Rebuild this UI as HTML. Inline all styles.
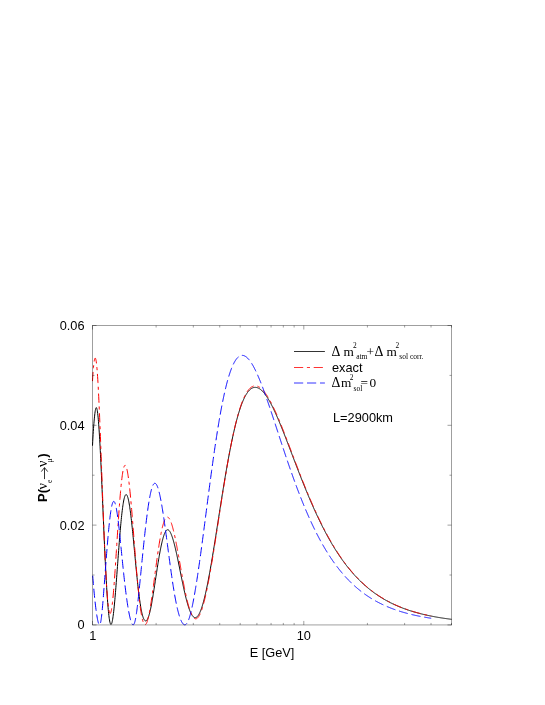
<!DOCTYPE html>
<html><head><meta charset="utf-8"><style>
html,body{margin:0;padding:0;background:#fff;}
svg{display:block;will-change:transform;opacity:0.999}
text{font-family:"Liberation Sans",sans-serif;fill:#000}
.ser,.ser text{font-family:"Liberation Serif",serif}
</style></head><body>
<svg width="545" height="705" viewBox="0 0 545 705">
<rect width="545" height="705" fill="#fff"/>
<g fill="none" stroke-width="1">
<path d="M92.50,445.70 L92.70,441.69 L92.90,438.00 L93.10,434.60 L93.30,431.48 L93.50,428.60 L93.70,425.92 L93.90,423.42 L94.10,421.08 L94.30,418.89 L94.50,416.86 L94.70,415.00 L94.90,413.32 L95.10,411.84 L95.30,410.56 L95.49,409.51 L95.69,408.68 L95.89,408.09 L96.09,407.73 L96.29,407.62 L96.49,407.75 L96.69,408.12 L96.89,408.72 L97.09,409.56 L97.29,410.63 L97.49,411.92 L97.69,413.44 L97.89,415.18 L98.09,417.13 L98.29,419.28 L98.49,421.63 L98.69,424.18 L98.89,426.92 L99.09,429.83 L99.29,432.91 L99.49,436.16 L99.69,439.56 L99.89,443.11 L100.09,446.80 L100.29,450.62 L100.49,454.56 L100.69,458.61 L100.89,462.76 L101.08,467.01 L101.28,471.34 L101.48,475.74 L101.68,480.21 L101.88,484.73 L102.08,489.30 L102.28,493.91 L102.48,498.55 L102.68,503.20 L102.88,507.86 L103.08,512.52 L103.28,517.18 L103.48,521.81 L103.68,526.42 L103.88,531.00 L104.08,535.53 L104.28,540.02 L104.48,544.45 L104.68,548.81 L104.88,553.10 L105.08,557.32 L105.28,561.45 L105.48,565.49 L105.68,569.43 L105.88,573.27 L106.08,577.00 L106.28,580.61 L106.48,584.11 L106.67,587.49 L106.87,590.74 L107.07,593.86 L107.27,596.84 L107.47,599.68 L107.67,602.39 L107.87,604.94 L108.07,607.35 L108.27,609.61 L108.47,611.71 L108.67,613.66 L108.87,615.44 L109.07,617.07 L109.27,618.54 L109.47,619.85 L109.67,620.99 L109.87,621.97 L110.07,622.79 L110.27,623.44 L110.47,623.93 L110.67,624.26 L110.87,624.43 L111.07,624.44 L111.27,624.30 L111.47,624.01 L111.67,623.56 L111.87,622.97 L112.07,622.24 L112.26,621.37 L112.46,620.37 L112.66,619.23 L112.86,617.98 L113.06,616.60 L113.26,615.11 L113.46,613.51 L113.66,611.81 L113.86,610.00 L114.06,608.11 L114.26,606.12 L114.46,604.05 L114.66,601.91 L114.86,599.69 L115.06,597.40 L115.26,595.05 L115.46,592.64 L115.66,590.19 L115.86,587.68 L116.06,585.13 L116.26,582.55 L116.46,579.93 L116.66,577.28 L116.86,574.62 L117.06,571.93 L117.26,569.23 L117.46,566.53 L117.66,563.82 L117.85,561.11 L118.05,558.41 L118.25,555.72 L118.45,553.05 L118.65,550.39 L118.85,547.76 L119.05,545.16 L119.25,542.59 L119.45,540.06 L119.65,537.57 L119.85,535.12 L120.05,532.72 L120.25,530.38 L120.45,528.09 L120.65,525.86 L120.85,523.68 L121.05,521.58 L121.25,519.54 L121.45,517.57 L121.65,515.67 L121.85,513.84 L122.05,512.09 L122.25,510.42 L122.45,508.83 L122.65,507.32 L122.85,505.89 L123.05,504.54 L123.25,503.28 L123.45,502.10 L123.64,501.01 L123.84,500.00 L124.04,499.08 L124.24,498.24 L124.44,497.49 L124.64,496.82 L124.84,496.24 L125.04,495.75 L125.24,495.34 L125.44,495.01 L125.64,494.77 L125.84,494.62 L126.04,494.54 L126.24,494.55 L126.44,494.64 L126.64,494.81 L126.84,495.06 L127.04,495.39 L127.24,495.80 L127.44,496.29 L127.64,496.85 L127.84,497.49 L128.04,498.20 L128.24,498.99 L128.44,499.85 L128.64,500.78 L128.84,501.78 L129.04,502.85 L129.23,503.98 L129.43,505.18 L129.63,506.44 L129.83,507.77 L130.03,509.16 L130.23,510.60 L130.43,512.10 L130.63,513.66 L130.83,515.26 L131.03,516.92 L131.23,518.63 L131.43,520.38 L131.63,522.17 L131.83,524.01 L132.03,525.88 L132.23,527.79 L132.43,529.73 L132.63,531.70 L132.83,533.70 L133.03,535.72 L133.23,537.77 L133.43,539.83 L133.63,541.92 L133.83,544.01 L134.03,546.12 L134.23,548.24 L134.43,550.36 L134.63,552.48 L134.82,554.61 L135.02,556.73 L135.22,558.85 L135.42,560.96 L135.62,563.06 L135.82,565.15 L136.02,567.22 L136.22,569.28 L136.42,571.31 L136.62,573.33 L136.82,575.32 L137.02,577.28 L137.22,579.22 L137.42,581.13 L137.62,583.00 L137.82,584.84 L138.02,586.64 L138.22,588.41 L138.42,590.14 L138.62,591.83 L138.82,593.47 L139.02,595.07 L139.22,596.63 L139.42,598.15 L139.62,599.61 L139.82,601.03 L140.02,602.40 L140.22,603.73 L140.41,605.00 L140.61,606.23 L140.81,607.40 L141.01,608.52 L141.21,609.60 L141.41,610.62 L141.61,611.59 L141.81,612.52 L142.01,613.39 L142.21,614.21 L142.41,614.98 L142.61,615.71 L142.81,616.38 L143.01,617.00 L143.21,617.58 L143.41,618.11 L143.61,618.59 L143.81,619.03 L144.01,619.41 L144.21,619.76 L144.41,620.05 L144.61,620.30 L144.81,620.51 L145.01,620.68 L145.21,620.80 L145.41,620.87 L145.61,620.91 L145.81,620.90 L146.00,620.85 L146.20,620.76 L146.40,620.62 L146.60,620.45 L146.80,620.23 L147.00,619.98 L147.20,619.68 L147.40,619.35 L147.60,618.97 L147.80,618.56 L148.00,618.11 L148.20,617.61 L148.40,617.08 L148.60,616.51 L148.80,615.91 L149.00,615.27 L149.20,614.59 L149.40,613.87 L149.60,613.12 L149.80,612.34 L150.00,611.52 L150.20,610.66 L150.40,609.78 L150.60,608.86 L150.80,607.92 L151.00,606.94 L151.20,605.94 L151.40,604.90 L151.60,603.85 L151.79,602.76 L151.99,601.65 L152.19,600.52 L152.39,599.37 L152.59,598.20 L152.79,597.00 L152.99,595.79 L153.19,594.57 L153.39,593.32 L153.59,592.07 L153.79,590.80 L153.99,589.52 L154.19,588.23 L154.39,586.93 L154.59,585.62 L154.79,584.31 L154.99,583.00 L155.19,581.68 L155.39,580.35 L155.59,579.03 L155.79,577.71 L155.99,576.39 L156.19,575.07 L156.39,573.75 L156.59,572.45 L156.79,571.14 L156.99,569.85 L157.19,568.56 L157.38,567.28 L157.58,566.01 L157.78,564.75 L157.98,563.50 L158.18,562.27 L158.38,561.05 L158.58,559.85 L158.78,558.66 L158.98,557.49 L159.18,556.33 L159.38,555.19 L159.58,554.07 L159.78,552.97 L159.98,551.89 L160.18,550.83 L160.38,549.79 L160.58,548.77 L160.78,547.77 L160.98,546.80 L161.18,545.85 L161.38,544.92 L161.58,544.01 L161.78,543.13 L161.98,542.28 L162.18,541.45 L162.38,540.64 L162.58,539.86 L162.78,539.11 L162.97,538.38 L163.17,537.68 L163.37,537.01 L163.57,536.36 L163.77,535.74 L163.97,535.15 L164.17,534.59 L164.37,534.06 L164.57,533.56 L164.77,533.09 L164.97,532.65 L165.17,532.23 L165.37,531.85 L165.57,531.50 L165.77,531.18 L165.97,530.90 L166.17,530.64 L166.37,530.42 L166.57,530.22 L166.77,530.06 L166.97,529.94 L167.17,529.84 L167.37,529.77 L167.57,529.74 L167.77,529.74 L167.97,529.77 L168.17,529.83 L168.37,529.92 L168.56,530.04 L168.76,530.19 L168.96,530.37 L169.16,530.58 L169.36,530.82 L169.56,531.08 L169.76,531.38 L169.96,531.69 L170.16,532.04 L170.36,532.41 L170.56,532.80 L170.76,533.22 L170.96,533.66 L171.16,534.13 L171.36,534.62 L171.56,535.13 L171.76,535.66 L171.96,536.21 L172.16,536.78 L172.36,537.37 L172.56,537.99 L172.76,538.62 L172.96,539.27 L173.16,539.93 L173.36,540.62 L173.56,541.32 L173.76,542.04 L173.96,542.77 L174.16,543.52 L174.35,544.29 L174.55,545.07 L174.75,545.86 L174.95,546.67 L175.15,547.49 L175.35,548.33 L175.55,549.18 L175.75,550.03 L175.95,550.91 L176.15,551.79 L176.35,552.68 L176.55,553.58 L176.75,554.49 L176.95,555.41 L177.15,556.34 L177.35,557.28 L177.55,558.22 L177.75,559.17 L177.95,560.13 L178.15,561.09 L178.35,562.06 L178.55,563.04 L178.75,564.01 L178.95,564.99 L179.15,565.98 L179.35,566.96 L179.55,567.95 L179.75,568.94 L179.94,569.93 L180.14,570.92 L180.34,571.92 L180.54,572.91 L180.74,573.90 L180.94,574.89 L181.14,575.87 L181.34,576.86 L181.54,577.84 L181.74,578.82 L181.94,579.79 L182.14,580.76 L182.34,581.72 L182.54,582.68 L182.74,583.64 L182.94,584.58 L183.14,585.52 L183.34,586.46 L183.54,587.38 L183.74,588.30 L183.94,589.21 L184.14,590.11 L184.34,591.01 L184.54,591.89 L184.74,592.76 L184.94,593.62 L185.14,594.48 L185.34,595.32 L185.53,596.15 L185.73,596.97 L185.93,597.77 L186.13,598.57 L186.33,599.35 L186.53,600.11 L186.73,600.87 L186.93,601.61 L187.13,602.34 L187.33,603.05 L187.53,603.75 L187.73,604.43 L187.93,605.10 L188.13,605.76 L188.33,606.39 L188.53,607.02 L188.73,607.62 L188.93,608.21 L189.13,608.79 L189.33,609.35 L189.53,609.89 L189.73,610.41 L189.93,610.92 L190.13,611.41 L190.33,611.88 L190.53,612.33 L190.73,612.77 L190.93,613.19 L191.12,613.59 L191.32,613.97 L191.52,614.33 L191.72,614.68 L191.92,615.00 L192.12,615.31 L192.32,615.60 L192.52,615.87 L192.72,616.12 L192.92,616.35 L193.12,616.56 L193.32,616.76 L193.52,616.93 L193.72,617.09 L193.92,617.22 L194.12,617.34 L194.32,617.44 L194.52,617.51 L194.72,617.57 L194.92,617.61 L195.12,617.63 L195.32,617.63 L195.52,617.61 L195.72,617.57 L195.92,617.51 L196.12,617.43 L196.32,617.34 L196.52,617.22 L196.71,617.09 L196.91,616.93 L197.11,616.76 L197.31,616.56 L197.51,616.35 L197.71,616.12 L197.91,615.87 L198.11,615.60 L198.31,615.32 L198.51,615.01 L198.71,614.69 L198.91,614.34 L199.11,613.98 L199.31,613.60 L199.51,613.21 L199.71,612.79 L199.91,612.36 L200.11,611.91 L200.31,611.44 L200.51,610.95 L200.71,610.45 L200.91,609.93 L201.11,609.39 L201.31,608.84 L201.51,608.27 L201.71,607.68 L201.91,607.07 L202.11,606.45 L202.31,605.82 L202.50,605.16 L202.70,604.50 L202.90,603.81 L203.10,603.11 L203.30,602.40 L203.50,601.67 L203.70,600.92 L203.90,600.16 L204.10,599.39 L204.30,598.60 L204.50,597.80 L204.70,596.98 L204.90,596.15 L205.10,595.31 L205.30,594.45 L205.50,593.58 L205.70,592.70 L205.90,591.80 L206.10,590.90 L206.30,589.97 L206.50,589.04 L206.70,588.10 L206.90,587.14 L207.10,586.17 L207.30,585.19 L207.50,584.20 L207.70,583.20 L207.90,582.19 L208.09,581.16 L208.29,580.13 L208.49,579.09 L208.69,578.03 L208.89,576.97 L209.09,575.90 L209.29,574.82 L209.49,573.73 L209.69,572.63 L209.89,571.52 L210.09,570.40 L210.29,569.28 L210.49,568.14 L210.69,567.00 L210.89,565.86 L211.09,564.70 L211.29,563.54 L211.49,562.37 L211.69,561.20 L211.89,560.01 L212.09,558.83 L212.29,557.63 L212.49,556.43 L212.69,555.23 L212.89,554.02 L213.09,552.80 L213.29,551.58 L213.49,550.35 L213.68,549.12 L213.88,547.89 L214.08,546.65 L214.28,545.41 L214.48,544.16 L214.68,542.91 L214.88,541.66 L215.08,540.40 L215.28,539.14 L215.48,537.88 L215.68,536.62 L215.88,535.35 L216.08,534.08 L216.28,532.81 L216.48,531.54 L216.68,530.27 L216.88,528.99 L217.08,527.71 L217.28,526.44 L217.48,525.16 L217.68,523.88 L217.88,522.60 L218.08,521.32 L218.28,520.04 L218.48,518.76 L218.68,517.48 L218.88,516.20 L219.08,514.92 L219.27,513.65 L219.47,512.37 L219.67,511.09 L219.87,509.82 L220.07,508.55 L220.27,507.28 L220.47,506.01 L220.67,504.74 L220.87,503.47 L221.07,502.21 L221.27,500.95 L221.47,499.69 L221.67,498.44 L221.87,497.18 L222.07,495.93 L222.27,494.69 L222.47,493.44 L222.67,492.20 L222.87,490.97 L223.07,489.73 L223.27,488.51 L223.47,487.28 L223.67,486.06 L223.87,484.84 L224.07,483.63 L224.27,482.42 L224.47,481.22 L224.67,480.02 L224.86,478.83 L225.06,477.64 L225.26,476.46 L225.46,475.28 L225.66,474.10 L225.86,472.94 L226.06,471.77 L226.26,470.62 L226.46,469.47 L226.66,468.32 L226.86,467.18 L227.06,466.05 L227.26,464.92 L227.46,463.80 L227.66,462.69 L227.86,461.58 L228.06,460.48 L228.26,459.38 L228.46,458.30 L228.66,457.21 L228.86,456.14 L229.06,455.07 L229.26,454.01 L229.46,452.96 L229.66,451.91 L229.86,450.87 L230.06,449.84 L230.26,448.82 L230.46,447.80 L230.65,446.79 L230.85,445.79 L231.05,444.80 L231.25,443.81 L231.45,442.83 L231.65,441.86 L231.85,440.90 L232.05,439.95 L232.25,439.00 L232.45,438.06 L232.65,437.13 L232.85,436.21 L233.05,435.30 L233.25,434.39 L233.45,433.49 L233.65,432.61 L233.85,431.73 L234.05,430.85 L234.25,429.99 L234.45,429.14 L234.65,428.29 L234.85,427.45 L235.05,426.62 L235.25,425.80 L235.45,424.99 L235.65,424.19 L235.85,423.40 L236.05,422.61 L236.24,421.84 L236.44,421.07 L236.64,420.31 L236.84,419.56 L237.04,418.82 L237.24,418.09 L237.44,417.37 L237.64,416.65 L237.84,415.95 L238.04,415.25 L238.24,414.56 L238.44,413.89 L238.64,413.22 L238.84,412.56 L239.04,411.91 L239.24,411.27 L239.44,410.63 L239.64,410.01 L239.84,409.40 L240.04,408.79 L240.24,408.19 L240.44,407.61 L240.64,407.03 L240.84,406.46 L241.04,405.90 L241.24,405.34 L241.44,404.80 L241.64,404.27 L241.83,403.74 L242.03,403.23 L242.23,402.72 L242.43,402.22 L242.63,401.73 L242.83,401.25 L243.03,400.78 L243.23,400.32 L243.43,399.86 L243.63,399.42 L243.83,398.98 L244.03,398.56 L244.23,398.14 L244.43,397.73 L244.63,397.32 L244.83,396.93 L245.03,396.55 L245.23,396.17 L245.43,395.80 L245.63,395.44 L245.83,395.09 L246.03,394.75 L246.23,394.42 L246.43,394.09 L246.63,393.77 L246.83,393.46 L247.03,393.16 L247.23,392.87 L247.42,392.59 L247.62,392.31 L247.82,392.04 L248.02,391.78 L248.22,391.53 L248.42,391.28 L248.62,391.05 L248.82,390.82 L249.02,390.60 L249.22,390.38 L249.42,390.18 L249.62,389.98 L249.82,389.79 L250.02,389.60 L250.22,389.43 L250.42,389.26 L250.62,389.10 L250.82,388.95 L251.02,388.80 L251.22,388.66 L251.42,388.53 L251.62,388.41 L251.82,388.29 L252.02,388.18 L252.22,388.08 L252.42,387.98 L252.62,387.89 L252.82,387.81 L253.01,387.73 L253.21,387.67 L253.41,387.60 L253.61,387.55 L253.81,387.50 L254.01,387.46 L254.21,387.43 L254.41,387.40 L254.61,387.37 L254.81,387.36 L255.01,387.35 L255.21,387.35 L255.41,387.35 L255.61,387.36 L255.81,387.38 L256.01,387.40 L256.21,387.43 L256.41,387.46 L256.61,387.50 L256.81,387.55 L257.01,387.60 L257.21,387.66 L257.41,387.73 L257.61,387.80 L257.81,387.87 L258.01,387.95 L258.21,388.04 L258.41,388.14 L258.61,388.23 L258.80,388.34 L259.00,388.45 L259.20,388.57 L259.40,388.69 L259.60,388.81 L259.80,388.95 L260.00,389.08 L260.20,389.23 L260.40,389.37 L260.60,389.53 L260.80,389.69 L261.00,389.85 L261.20,390.02 L261.40,390.19 L261.60,390.37 L261.80,390.56 L262.00,390.75 L262.20,390.94 L262.40,391.14 L262.60,391.35 L262.80,391.55 L263.00,391.77 L263.20,391.99 L263.40,392.21 L263.60,392.44 L263.80,392.67 L264.00,392.91 L264.20,393.15 L264.39,393.40 L264.59,393.65 L264.79,393.90 L264.99,394.16 L265.19,394.43 L265.39,394.70 L265.59,394.97 L265.79,395.25 L265.99,395.53 L266.19,395.82 L266.39,396.11 L266.59,396.40 L266.79,396.70 L266.99,397.00 L267.19,397.31 L267.39,397.62 L267.59,397.93 L267.79,398.25 L267.99,398.57 L268.19,398.90 L268.39,399.23 L268.59,399.56 L268.79,399.90 L268.99,400.24 L269.19,400.59 L269.39,400.94 L269.59,401.29 L269.79,401.64 L269.98,402.00 L270.18,402.37 L270.38,402.73 L270.58,403.10 L270.78,403.47 L270.98,403.85 L271.18,404.23 L271.38,404.61 L271.58,405.00 L271.78,405.38 L271.98,405.78 L272.18,406.17 L272.38,406.57 L272.58,406.97 L272.78,407.37 L272.98,407.78 L273.18,408.19 L273.38,408.60 L273.58,409.01 L273.78,409.43 L273.98,409.85 L274.18,410.28 L274.38,410.70 L274.58,411.13 L274.78,411.56 L274.98,411.99 L275.18,412.43 L275.38,412.87 L275.57,413.31 L275.77,413.75 L275.97,414.19 L276.17,414.64 L276.37,415.09 L276.57,415.54 L276.77,416.00 L276.97,416.45 L277.17,416.91 L277.37,417.37 L277.57,417.83 L277.77,418.29 L277.97,418.76 L278.17,419.23 L278.37,419.70 L278.57,420.17 L278.77,420.64 L278.97,421.12 L279.17,421.59 L279.37,422.07 L279.57,422.55 L279.77,423.03 L279.97,423.51 L280.17,424.00 L280.37,424.48 L280.57,424.97 L280.77,425.46 L280.97,425.95 L281.16,426.44 L281.36,426.94 L281.56,427.43 L281.76,427.92 L281.96,428.42 L282.16,428.92 L282.36,429.42 L282.56,429.92 L282.76,430.42 L282.96,430.92 L283.16,431.43 L283.36,431.93 L283.56,432.44 L283.76,432.94 L283.96,433.45 L284.16,433.96 L284.36,434.47 L284.56,434.98 L284.76,435.49 L284.96,436.00 L285.16,436.51 L285.36,437.02 L285.56,437.54 L285.76,438.05 L285.96,438.57 L286.16,439.08 L286.36,439.60 L286.56,440.12 L286.76,440.63 L286.95,441.15 L287.15,441.67 L287.35,442.19 L287.55,442.71 L287.75,443.23 L287.95,443.75 L288.15,444.27 L288.35,444.79 L288.55,445.31 L288.75,445.83 L288.95,446.35 L289.15,446.88 L289.35,447.40 L289.55,447.92 L289.75,448.44 L289.95,448.97 L290.15,449.49 L290.35,450.01 L290.55,450.54 L290.75,451.06 L290.95,451.59 L291.15,452.11 L291.35,452.63 L291.55,453.16 L291.75,453.68 L291.95,454.20 L292.15,454.73 L292.35,455.25 L292.54,455.78 L292.74,456.30 L292.94,456.82 L293.14,457.35 L293.34,457.87 L293.54,458.39 L293.74,458.92 L293.94,459.44 L294.14,459.96 L294.34,460.48 L294.54,461.01 L294.74,461.53 L294.94,462.05 L295.14,462.57 L295.34,463.09 L295.54,463.61 L295.74,464.13 L295.94,464.65 L296.14,465.17 L296.34,465.69 L296.54,466.21 L296.74,466.73 L296.94,467.25 L297.14,467.76 L297.34,468.28 L297.54,468.80 L297.74,469.31 L297.94,469.83 L298.13,470.34 L298.33,470.86 L298.53,471.37 L298.73,471.89 L298.93,472.40 L299.13,472.91 L299.33,473.42 L299.53,473.93 L299.73,474.45 L299.93,474.96 L300.13,475.46 L300.33,475.97 L300.53,476.48 L300.73,476.99 L300.93,477.50 L301.13,478.00 L301.33,478.51 L301.53,479.01 L301.73,479.52 L301.93,480.02 L302.13,480.52 L302.33,481.02 L302.53,481.52 L302.73,482.02 L302.93,482.52 L303.13,483.02 L303.33,483.52 L303.53,484.02 L303.72,484.51 L303.92,485.01 L304.12,485.50 L304.32,486.00 L304.52,486.49 L304.72,486.98 L304.92,487.47 L305.12,487.96 L305.32,488.45 L305.52,488.94 L305.72,489.43 L305.92,489.91 L306.12,490.40 L306.32,490.89 L306.52,491.37 L306.72,491.85 L306.92,492.33 L307.12,492.81 L307.32,493.29 L307.52,493.77 L307.72,494.25 L307.92,494.73 L308.12,495.21 L308.32,495.68 L308.52,496.15 L308.72,496.63 L308.92,497.10 L309.12,497.57 L309.32,498.04 L309.51,498.51 L309.71,498.98 L309.91,499.45 L310.11,499.91 L310.31,500.38 L310.51,500.84 L310.71,501.30 L310.91,501.77 L311.11,502.23 L311.31,502.69 L311.51,503.14 L311.71,503.60 L311.91,504.06 L312.11,504.51 L312.31,504.97 L312.51,505.42 L312.71,505.87 L312.91,506.32 L313.11,506.77 L313.31,507.22 L313.51,507.67 L313.71,508.12 L313.91,508.56 L314.11,509.01 L314.31,509.45 L314.51,509.89 L314.71,510.33 L314.91,510.77 L315.10,511.21 L315.30,511.65 L315.50,512.08 L315.70,512.52 L315.90,512.95 L316.10,513.39 L316.30,513.82 L316.50,514.25 L316.70,514.68 L316.90,515.11 L317.10,515.53 L317.30,515.96 L317.50,516.38 L317.70,516.81 L317.90,517.23 L318.10,517.65 L318.30,518.07 L318.50,518.49 L318.70,518.91 L318.90,519.32 L319.10,519.74 L319.30,520.15 L319.50,520.57 L319.70,520.98 L319.90,521.39 L320.10,521.80 L320.30,522.20 L320.50,522.61 L320.69,523.02 L320.89,523.42 L321.09,523.83 L321.29,524.23 L321.49,524.63 L321.69,525.03 L321.89,525.43 L322.09,525.82 L322.29,526.22 L322.49,526.61 L322.69,527.01 L322.89,527.40 L323.09,527.79 L323.29,528.18 L323.49,528.57 L323.69,528.96 L323.89,529.34 L324.09,529.73 L324.29,530.11 L324.49,530.50 L324.69,530.88 L324.89,531.26 L325.09,531.64 L325.29,532.02 L325.49,532.39 L325.69,532.77 L325.89,533.14 L326.09,533.52 L326.28,533.89 L326.48,534.26 L326.68,534.63 L326.88,535.00 L327.08,535.36 L327.28,535.73 L327.48,536.09 L327.68,536.46 L327.88,536.82 L328.08,537.18 L328.28,537.54 L328.48,537.90 L328.68,538.26 L328.88,538.61 L329.08,538.97 L329.28,539.32 L329.48,539.68 L329.68,540.03 L329.88,540.38 L330.08,540.73 L330.28,541.08 L330.48,541.42 L330.68,541.77 L330.88,542.11 L331.08,542.46 L331.28,542.80 L331.48,543.14 L331.68,543.48 L331.87,543.82 L332.07,544.16 L332.27,544.49 L332.47,544.83 L332.67,545.16 L332.87,545.49 L333.07,545.83 L333.27,546.16 L333.47,546.49 L333.67,546.81 L333.87,547.14 L334.07,547.47 L334.27,547.79 L334.47,548.11 L334.67,548.44 L334.87,548.76 L335.07,549.08 L335.27,549.40 L335.47,549.71 L335.67,550.03 L335.87,550.35 L336.07,550.66 L336.27,550.97 L336.47,551.29 L336.67,551.60 L336.87,551.91 L337.07,552.22 L337.27,552.52 L337.47,552.83 L337.66,553.14 L337.86,553.44 L338.06,553.74 L338.26,554.04 L338.46,554.35 L338.66,554.65 L338.86,554.94 L339.06,555.24 L339.26,555.54 L339.46,555.83 L339.66,556.13 L339.86,556.42 L340.06,556.71 L340.26,557.00 L340.46,557.29 L340.66,557.58 L340.86,557.87 L341.06,558.16 L341.26,558.44 L341.46,558.73 L341.66,559.01 L341.86,559.29 L342.06,559.57 L342.26,559.85 L342.46,560.13 L342.66,560.41 L342.86,560.69 L343.06,560.96 L343.25,561.24 L343.45,561.51 L343.65,561.78 L343.85,562.06 L344.05,562.33 L344.25,562.60 L344.45,562.87 L344.65,563.13 L344.85,563.40 L345.05,563.66 L345.25,563.93 L345.45,564.19 L345.65,564.45 L345.85,564.72 L346.05,564.98 L346.25,565.24 L346.45,565.49 L346.65,565.75 L346.85,566.01 L347.05,566.26 L347.25,566.52 L347.45,566.77 L347.65,567.02 L347.85,567.27 L348.05,567.52 L348.25,567.77 L348.45,568.02 L348.65,568.27 L348.84,568.52 L349.04,568.76 L349.24,569.01 L349.44,569.25 L349.64,569.49 L349.84,569.73 L350.04,569.97 L350.24,570.21 L350.44,570.45 L350.64,570.69 L350.84,570.93 L351.04,571.16 L351.24,571.40 L351.44,571.63 L351.64,571.86 L351.84,572.10 L352.04,572.33 L352.24,572.56 L352.44,572.79 L352.64,573.01 L352.84,573.24 L353.04,573.47 L353.24,573.69 L353.44,573.92 L353.64,574.14 L353.84,574.37 L354.04,574.59 L354.24,574.81 L354.43,575.03 L354.63,575.25 L354.83,575.47 L355.03,575.68 L355.23,575.90 L355.43,576.12 L355.63,576.33 L355.83,576.54 L356.03,576.76 L356.23,576.97 L356.43,577.18 L356.63,577.39 L356.83,577.60 L357.03,577.81 L357.23,578.02 L357.43,578.22 L357.63,578.43 L357.83,578.63 L358.03,578.84 L358.23,579.04 L358.43,579.25 L358.63,579.45 L358.83,579.65 L359.03,579.85 L359.23,580.05 L359.43,580.25 L359.63,580.44 L359.83,580.64 L360.02,580.84 L360.22,581.03 L360.42,581.23 L360.62,581.42 L360.82,581.61 L361.02,581.80 L361.22,582.00 L361.42,582.19 L361.62,582.38 L361.82,582.56 L362.02,582.75 L362.22,582.94 L362.42,583.13 L362.62,583.31 L362.82,583.50 L363.02,583.68 L363.22,583.86 L363.42,584.05 L363.62,584.23 L363.82,584.41 L364.02,584.59 L364.22,584.77 L364.42,584.95 L364.62,585.12 L364.82,585.30 L365.02,585.48 L365.22,585.65 L365.42,585.83 L365.62,586.00 L365.81,586.18 L366.01,586.35 L366.21,586.52 L366.41,586.69 L366.61,586.86 L366.81,587.03 L367.01,587.20 L367.21,587.37 L367.41,587.54 L367.61,587.70 L367.81,587.87 L368.01,588.04 L368.21,588.20 L368.41,588.36 L368.61,588.53 L368.81,588.69 L369.01,588.85 L369.21,589.01 L369.41,589.17 L369.61,589.33 L369.81,589.49 L370.01,589.65 L370.21,589.81 L370.41,589.97 L370.61,590.12 L370.81,590.28 L371.01,590.43 L371.21,590.59 L371.40,590.74 L371.60,590.89 L371.80,591.05 L372.00,591.20 L372.20,591.35 L372.40,591.50 L372.60,591.65 L372.80,591.80 L373.00,591.95 L373.20,592.10 L373.40,592.24 L373.60,592.39 L373.80,592.53 L374.00,592.68 L374.20,592.82 L374.40,592.97 L374.60,593.11 L374.80,593.25 L375.00,593.40 L375.20,593.54 L375.40,593.68 L375.60,593.82 L375.80,593.96 L376.00,594.10 L376.20,594.24 L376.40,594.37 L376.60,594.51 L376.80,594.65 L376.99,594.78 L377.19,594.92 L377.39,595.06 L377.59,595.19 L377.79,595.32 L377.99,595.46 L378.19,595.59 L378.39,595.72 L378.59,595.85 L378.79,595.98 L378.99,596.11 L379.19,596.24 L379.39,596.37 L379.59,596.50 L379.79,596.63 L379.99,596.76 L380.19,596.88 L380.39,597.01 L380.59,597.13 L380.79,597.26 L380.99,597.38 L381.19,597.51 L381.39,597.63 L381.59,597.75 L381.79,597.88 L381.99,598.00 L382.19,598.12 L382.39,598.24 L382.58,598.36 L382.78,598.48 L382.98,598.60 L383.18,598.72 L383.38,598.84 L383.58,598.95 L383.78,599.07 L383.98,599.19 L384.18,599.30 L384.38,599.42 L384.58,599.53 L384.78,599.65 L384.98,599.76 L385.18,599.88 L385.38,599.99 L385.58,600.10 L385.78,600.21 L385.98,600.32 L386.18,600.44 L386.38,600.55 L386.58,600.66 L386.78,600.77 L386.98,600.87 L387.18,600.98 L387.38,601.09 L387.58,601.20 L387.78,601.31 L387.98,601.41 L388.17,601.52 L388.37,601.62 L388.57,601.73 L388.77,601.83 L388.97,601.94 L389.17,602.04 L389.37,602.15 L389.57,602.25 L389.77,602.35 L389.97,602.45 L390.17,602.55 L390.37,602.66 L390.57,602.76 L390.77,602.86 L390.97,602.96 L391.17,603.06 L391.37,603.15 L391.57,603.25 L391.77,603.35 L391.97,603.45 L392.17,603.54 L392.37,603.64 L392.57,603.74 L392.77,603.83 L392.97,603.93 L393.17,604.02 L393.37,604.12 L393.57,604.21 L393.77,604.31 L393.96,604.40 L394.16,604.49 L394.36,604.58 L394.56,604.68 L394.76,604.77 L394.96,604.86 L395.16,604.95 L395.36,605.04 L395.56,605.13 L395.76,605.22 L395.96,605.31 L396.16,605.40 L396.36,605.48 L396.56,605.57 L396.76,605.66 L396.96,605.75 L397.16,605.83 L397.36,605.92 L397.56,606.01 L397.76,606.09 L397.96,606.18 L398.16,606.26 L398.36,606.35 L398.56,606.43 L398.76,606.51 L398.96,606.60 L399.16,606.68 L399.36,606.76 L399.55,606.84 L399.75,606.93 L399.95,607.01 L400.15,607.09 L400.35,607.17 L400.55,607.25 L400.75,607.33 L400.95,607.41 L401.15,607.49 L401.35,607.57 L401.55,607.64 L401.75,607.72 L401.95,607.80 L402.15,607.88 L402.35,607.95 L402.55,608.03 L402.75,608.11 L402.95,608.18 L403.15,608.26 L403.35,608.33 L403.55,608.41 L403.75,608.48 L403.95,608.56 L404.15,608.63 L404.35,608.71 L404.55,608.78 L404.75,608.85 L404.95,608.93 L405.14,609.00 L405.34,609.07 L405.54,609.14 L405.74,609.21 L405.94,609.28 L406.14,609.35 L406.34,609.42 L406.54,609.49 L406.74,609.56 L406.94,609.63 L407.14,609.70 L407.34,609.77 L407.54,609.84 L407.74,609.91 L407.94,609.98 L408.14,610.04 L408.34,610.11 L408.54,610.18 L408.74,610.24 L408.94,610.31 L409.14,610.38 L409.34,610.44 L409.54,610.51 L409.74,610.57 L409.94,610.64 L410.14,610.70 L410.34,610.77 L410.54,610.83 L410.73,610.89 L410.93,610.96 L411.13,611.02 L411.33,611.08 L411.53,611.15 L411.73,611.21 L411.93,611.27 L412.13,611.33 L412.33,611.39 L412.53,611.45 L412.73,611.51 L412.93,611.58 L413.13,611.64 L413.33,611.70 L413.53,611.76 L413.73,611.81 L413.93,611.87 L414.13,611.93 L414.33,611.99 L414.53,612.05 L414.73,612.11 L414.93,612.17 L415.13,612.22 L415.33,612.28 L415.53,612.34 L415.73,612.39 L415.93,612.45 L416.13,612.51 L416.33,612.56 L416.52,612.62 L416.72,612.67 L416.92,612.73 L417.12,612.78 L417.32,612.84 L417.52,612.89 L417.72,612.95 L417.92,613.00 L418.12,613.06 L418.32,613.11 L418.52,613.16 L418.72,613.22 L418.92,613.27 L419.12,613.32 L419.32,613.37 L419.52,613.42 L419.72,613.48 L419.92,613.53 L420.12,613.58 L420.32,613.63 L420.52,613.68 L420.72,613.73 L420.92,613.78 L421.12,613.83 L421.32,613.88 L421.52,613.93 L421.72,613.98 L421.92,614.03 L422.11,614.08 L422.31,614.13 L422.51,614.18 L422.71,614.23 L422.91,614.27 L423.11,614.32 L423.31,614.37 L423.51,614.42 L423.71,614.46 L423.91,614.51 L424.11,614.56 L424.31,614.60 L424.51,614.65 L424.71,614.70 L424.91,614.74 L425.11,614.79 L425.31,614.83 L425.51,614.88 L425.71,614.93 L425.91,614.97 L426.11,615.01 L426.31,615.06 L426.51,615.10 L426.71,615.15 L426.91,615.19 L427.11,615.24 L427.31,615.28 L427.51,615.32 L427.70,615.37 L427.90,615.41 L428.10,615.45 L428.30,615.49 L428.50,615.54 L428.70,615.58 L428.90,615.62 L429.10,615.66 L429.30,615.70 L429.50,615.74 L429.70,615.79 L429.90,615.83 L430.10,615.87 L430.30,615.91 L430.50,615.95 L430.70,615.99 L430.90,616.03 L431.10,616.07 L431.30,616.11 L431.50,616.15 L431.70,616.19 L431.90,616.23 L432.10,616.27 L432.30,616.30 L432.50,616.34 L432.70,616.38 L432.90,616.42 L433.10,616.46 L433.29,616.50 L433.49,616.53 L433.69,616.57 L433.89,616.61 L434.09,616.65 L434.29,616.68 L434.49,616.72 L434.69,616.76 L434.89,616.79 L435.09,616.83 L435.29,616.87 L435.49,616.90 L435.69,616.94 L435.89,616.97 L436.09,617.01 L436.29,617.04 L436.49,617.08 L436.69,617.11 L436.89,617.15 L437.09,617.18 L437.29,617.22 L437.49,617.25 L437.69,617.29 L437.89,617.32 L438.09,617.36 L438.29,617.39 L438.49,617.42 L438.69,617.46 L438.88,617.49 L439.08,617.52 L439.28,617.56 L439.48,617.59 L439.68,617.62 L439.88,617.65 L440.08,617.69 L440.28,617.72 L440.48,617.75 L440.68,617.78 L440.88,617.82 L441.08,617.85 L441.28,617.88 L441.48,617.91 L441.68,617.94 L441.88,617.97 L442.08,618.00 L442.28,618.03 L442.48,618.07 L442.68,618.10 L442.88,618.13 L443.08,618.16 L443.28,618.19 L443.48,618.22 L443.68,618.25 L443.88,618.28 L444.08,618.31 L444.28,618.34 L444.48,618.36 L444.67,618.39 L444.87,618.42 L445.07,618.45 L445.27,618.48 L445.47,618.51 L445.67,618.54 L445.87,618.57 L446.07,618.59 L446.27,618.62 L446.47,618.65 L446.67,618.68 L446.87,618.71 L447.07,618.73 L447.27,618.76 L447.47,618.79 L447.67,618.82 L447.87,618.84 L448.07,618.87 L448.27,618.90 L448.47,618.92 L448.67,618.95 L448.87,618.98 L449.07,619.00 L449.27,619.03 L449.47,619.06 L449.67,619.08 L449.87,619.11 L450.07,619.13 L450.26,619.16 L450.46,619.18 L450.66,619.21 L450.86,619.24 L451.06,619.26 L451.26,619.29 L451.46,619.31 L451.66,619.34" stroke="#000"/>
<path d="M92.50,381.11 L92.69,377.80 L92.88,374.81 L93.06,372.12 L93.25,369.72 L93.44,367.58 L93.63,365.69 L93.82,364.02 L94.01,362.56 L94.19,361.31 L94.38,360.25 L94.57,359.40 L94.76,358.75 L94.95,358.32 L95.14,358.12 L95.32,358.14 L95.51,358.39 L95.70,358.88 L95.89,359.61 L96.08,360.58 L96.27,361.78 L96.45,363.21 L96.64,364.87 L96.83,366.76 L97.02,368.86 L97.21,371.18 L97.39,373.70 L97.58,376.43 L97.77,379.35 L97.96,382.46 L98.15,385.76 L98.34,389.22 L98.52,392.86 L98.71,396.65 L98.90,400.59 L99.09,404.68 L99.28,408.90 L99.47,413.24 L99.65,417.70 L99.84,422.27 L100.03,426.93 L100.22,431.69 L100.41,436.53 L100.60,441.43 L100.78,446.40 L100.97,451.43 L101.16,456.50 L101.35,461.60 L101.54,466.73 L101.72,471.87 L101.91,477.03 L102.10,482.18 L102.29,487.33 L102.48,492.45 L102.67,497.56 L102.85,502.62 L103.04,507.65 L103.23,512.63 L103.42,517.54 L103.61,522.40 L103.80,527.18 L103.98,531.89 L104.17,536.50 L104.36,541.03 L104.55,545.46 L104.74,549.78 L104.93,554.00 L105.11,558.10 L105.30,562.08 L105.49,565.93 L105.68,569.66 L105.87,573.25 L106.05,576.70 L106.24,580.01 L106.43,583.18 L106.62,586.20 L106.81,589.06 L107.00,591.78 L107.18,594.34 L107.37,596.74 L107.56,598.98 L107.75,601.06 L107.94,602.99 L108.13,604.74 L108.31,606.34 L108.50,607.77 L108.69,609.04 L108.88,610.15 L109.07,611.10 L109.25,611.88 L109.44,612.51 L109.63,612.98 L109.82,613.29 L110.01,613.44 L110.20,613.44 L110.38,613.29 L110.57,613.00 L110.76,612.55 L110.95,611.97 L111.14,611.24 L111.33,610.38 L111.51,609.38 L111.70,608.25 L111.89,607.00 L112.08,605.63 L112.27,604.13 L112.46,602.53 L112.64,600.81 L112.83,598.99 L113.02,597.06 L113.21,595.04 L113.40,592.93 L113.58,590.73 L113.77,588.44 L113.96,586.08 L114.15,583.65 L114.34,581.14 L114.53,578.58 L114.71,575.95 L114.90,573.27 L115.09,570.54 L115.28,567.77 L115.47,564.96 L115.66,562.12 L115.84,559.25 L116.03,556.35 L116.22,553.44 L116.41,550.51 L116.60,547.57 L116.79,544.63 L116.97,541.69 L117.16,538.75 L117.35,535.82 L117.54,532.91 L117.73,530.02 L117.91,527.14 L118.10,524.30 L118.29,521.49 L118.48,518.71 L118.67,515.97 L118.86,513.27 L119.04,510.62 L119.23,508.02 L119.42,505.48 L119.61,502.99 L119.80,500.57 L119.99,498.20 L120.17,495.91 L120.36,493.68 L120.55,491.52 L120.74,489.44 L120.93,487.44 L121.12,485.51 L121.30,483.66 L121.49,481.90 L121.68,480.22 L121.87,478.63 L122.06,477.12 L122.24,475.70 L122.43,474.37 L122.62,473.13 L122.81,471.98 L123.00,470.92 L123.19,469.96 L123.37,469.08 L123.56,468.30 L123.75,467.61 L123.94,467.00 L124.13,466.50 L124.32,466.08 L124.50,465.75 L124.69,465.51 L124.88,465.36 L125.07,465.30 L125.26,465.33 L125.45,465.45 L125.63,465.65 L125.82,465.93 L126.01,466.30 L126.20,466.75 L126.39,467.29 L126.57,467.90 L126.76,468.60 L126.95,469.37 L127.14,470.22 L127.33,471.14 L127.52,472.14 L127.70,473.22 L127.89,474.36 L128.08,475.57 L128.27,476.86 L128.46,478.21 L128.65,479.62 L128.83,481.10 L129.02,482.64 L129.21,484.24 L129.40,485.90 L129.59,487.62 L129.78,489.39 L129.96,491.22 L130.15,493.09 L130.34,495.02 L130.53,496.99 L130.72,499.00 L130.90,501.06 L131.09,503.16 L131.28,505.30 L131.47,507.47 L131.66,509.67 L131.85,511.91 L132.03,514.17 L132.22,516.46 L132.41,518.78 L132.60,521.11 L132.79,523.46 L132.98,525.83 L133.16,528.21 L133.35,530.61 L133.54,533.01 L133.73,535.42 L133.92,537.83 L134.10,540.24 L134.29,542.66 L134.48,545.06 L134.67,547.47 L134.86,549.86 L135.05,552.25 L135.23,554.62 L135.42,556.98 L135.61,559.32 L135.80,561.64 L135.99,563.95 L136.18,566.23 L136.36,568.48 L136.55,570.71 L136.74,572.91 L136.93,575.08 L137.12,577.22 L137.31,579.33 L137.49,581.40 L137.68,583.44 L137.87,585.43 L138.06,587.39 L138.25,589.31 L138.43,591.19 L138.62,593.02 L138.81,594.81 L139.00,596.55 L139.19,598.25 L139.38,599.90 L139.56,601.50 L139.75,603.06 L139.94,604.56 L140.13,606.01 L140.32,607.41 L140.51,608.76 L140.69,610.06 L140.88,611.30 L141.07,612.49 L141.26,613.62 L141.45,614.70 L141.64,615.73 L141.82,616.70 L142.01,617.61 L142.20,618.47 L142.39,619.28 L142.58,620.03 L142.76,620.72 L142.95,621.35 L143.14,621.93 L143.33,622.46 L143.52,622.93 L143.71,623.34 L143.89,623.70 L144.08,624.01 L144.27,624.26 L144.46,624.46 L144.65,624.60 L144.84,624.69 L145.02,624.73 L145.21,624.71 L145.40,624.64 L145.59,624.53 L145.78,624.36 L145.97,624.14 L146.15,623.88 L146.34,623.56 L146.53,623.20 L146.72,622.79 L146.91,622.34 L147.09,621.84 L147.28,621.30 L147.47,620.71 L147.66,620.09 L147.85,619.42 L148.04,618.71 L148.22,617.96 L148.41,617.17 L148.60,616.34 L148.79,615.48 L148.98,614.59 L149.17,613.66 L149.35,612.69 L149.54,611.70 L149.73,610.67 L149.92,609.61 L150.11,608.53 L150.30,607.41 L150.48,606.27 L150.67,605.11 L150.86,603.92 L151.05,602.71 L151.24,601.47 L151.42,600.22 L151.61,598.94 L151.80,597.65 L151.99,596.34 L152.18,595.01 L152.37,593.67 L152.55,592.31 L152.74,590.94 L152.93,589.56 L153.12,588.17 L153.31,586.77 L153.50,585.36 L153.68,583.95 L153.87,582.52 L154.06,581.10 L154.25,579.67 L154.44,578.23 L154.63,576.80 L154.81,575.36 L155.00,573.93 L155.19,572.49 L155.38,571.06 L155.57,569.63 L155.75,568.21 L155.94,566.79 L156.13,565.38 L156.32,563.97 L156.51,562.58 L156.70,561.19 L156.88,559.81 L157.07,558.44 L157.26,557.09 L157.45,555.74 L157.64,554.41 L157.83,553.10 L158.01,551.80 L158.20,550.51 L158.39,549.24 L158.58,547.99 L158.77,546.76 L158.95,545.54 L159.14,544.34 L159.33,543.17 L159.52,542.01 L159.71,540.88 L159.90,539.76 L160.08,538.67 L160.27,537.60 L160.46,536.56 L160.65,535.53 L160.84,534.54 L161.03,533.56 L161.21,532.62 L161.40,531.69 L161.59,530.80 L161.78,529.93 L161.97,529.08 L162.16,528.27 L162.34,527.48 L162.53,526.72 L162.72,525.98 L162.91,525.28 L163.10,524.60 L163.28,523.95 L163.47,523.33 L163.66,522.74 L163.85,522.18 L164.04,521.64 L164.23,521.14 L164.41,520.67 L164.60,520.22 L164.79,519.81 L164.98,519.42 L165.17,519.07 L165.36,518.74 L165.54,518.44 L165.73,518.18 L165.92,517.94 L166.11,517.73 L166.30,517.55 L166.49,517.40 L166.67,517.28 L166.86,517.19 L167.05,517.13 L167.24,517.10 L167.43,517.09 L167.61,517.12 L167.80,517.17 L167.99,517.25 L168.18,517.36 L168.37,517.50 L168.56,517.66 L168.74,517.85 L168.93,518.07 L169.12,518.31 L169.31,518.58 L169.50,518.88 L169.69,519.20 L169.87,519.55 L170.06,519.92 L170.25,520.32 L170.44,520.74 L170.63,521.19 L170.82,521.65 L171.00,522.15 L171.19,522.66 L171.38,523.20 L171.57,523.76 L171.76,524.34 L171.94,524.94 L172.13,525.56 L172.32,526.20 L172.51,526.87 L172.70,527.55 L172.89,528.25 L173.07,528.97 L173.26,529.70 L173.45,530.46 L173.64,531.23 L173.83,532.02 L174.02,532.82 L174.20,533.64 L174.39,534.48 L174.58,535.33 L174.77,536.19 L174.96,537.07 L175.15,537.96 L175.33,538.87 L175.52,539.78 L175.71,540.71 L175.90,541.65 L176.09,542.60 L176.27,543.56 L176.46,544.53 L176.65,545.50 L176.84,546.49 L177.03,547.49 L177.22,548.49 L177.40,549.50 L177.59,550.52 L177.78,551.54 L177.97,552.57 L178.16,553.60 L178.35,554.64 L178.53,555.68 L178.72,556.73 L178.91,557.78 L179.10,558.83 L179.29,559.89 L179.48,560.94 L179.66,562.00 L179.85,563.06 L180.04,564.12 L180.23,565.18 L180.42,566.24 L180.60,567.30 L180.79,568.35 L180.98,569.41 L181.17,570.46 L181.36,571.51 L181.55,572.56 L181.73,573.60 L181.92,574.64 L182.11,575.67 L182.30,576.70 L182.49,577.73 L182.68,578.75 L182.86,579.76 L183.05,580.76 L183.24,581.76 L183.43,582.76 L183.62,583.74 L183.80,584.72 L183.99,585.69 L184.18,586.65 L184.37,587.60 L184.56,588.54 L184.75,589.47 L184.93,590.39 L185.12,591.30 L185.31,592.20 L185.50,593.09 L185.69,593.97 L185.88,594.84 L186.06,595.69 L186.25,596.54 L186.44,597.37 L186.63,598.19 L186.82,598.99 L187.01,599.78 L187.19,600.56 L187.38,601.33 L187.57,602.08 L187.76,602.81 L187.95,603.53 L188.13,604.24 L188.32,604.93 L188.51,605.61 L188.70,606.27 L188.89,606.92 L189.08,607.55 L189.26,608.17 L189.45,608.77 L189.64,609.35 L189.83,609.92 L190.02,610.47 L190.21,611.00 L190.39,611.52 L190.58,612.02 L190.77,612.50 L190.96,612.97 L191.15,613.42 L191.34,613.85 L191.52,614.26 L191.71,614.66 L191.90,615.03 L192.09,615.40 L192.28,615.74 L192.46,616.06 L192.65,616.37 L192.84,616.66 L193.03,616.93 L193.22,617.18 L193.41,617.42 L193.59,617.63 L193.78,617.83 L193.97,618.01 L194.16,618.17 L194.35,618.31 L194.54,618.44 L194.72,618.55 L194.91,618.63 L195.10,618.70 L195.29,618.75 L195.48,618.79 L195.67,618.80 L195.85,618.80 L196.04,618.77 L196.23,618.73 L196.42,618.68 L196.61,618.60 L196.79,618.50 L196.98,618.39 L197.17,618.26 L197.36,618.11 L197.55,617.94 L197.74,617.76 L197.92,617.56 L198.11,617.34 L198.30,617.10 L198.49,616.84 L198.68,616.57 L198.87,616.28 L199.05,615.98 L199.24,615.65 L199.43,615.31 L199.62,614.95 L199.81,614.58 L200.00,614.18 L200.18,613.78 L200.37,613.35 L200.56,612.91 L200.75,612.45 L200.94,611.98 L201.12,611.49 L201.31,610.98 L201.50,610.46 L201.69,609.93 L201.88,609.37 L202.07,608.81 L202.25,608.22 L202.44,607.63 L202.63,607.01 L202.82,606.39 L203.01,605.75 L203.20,605.09 L203.38,604.42 L203.57,603.74 L203.76,603.04 L203.95,602.32 L204.14,601.60 L204.33,600.86 L204.51,600.11 L204.70,599.34 L204.89,598.56 L205.08,597.77 L205.27,596.97 L205.45,596.15 L205.64,595.33 L205.83,594.49 L206.02,593.63 L206.21,592.77 L206.40,591.90 L206.58,591.01 L206.77,590.11 L206.96,589.20 L207.15,588.28 L207.34,587.35 L207.53,586.41 L207.71,585.46 L207.90,584.50 L208.09,583.53 L208.28,582.55 L208.47,581.56 L208.65,580.56 L208.84,579.56 L209.03,578.54 L209.22,577.51 L209.41,576.48 L209.60,575.44 L209.78,574.39 L209.97,573.33 L210.16,572.26 L210.35,571.19 L210.54,570.11 L210.73,569.02 L210.91,567.93 L211.10,566.83 L211.29,565.72 L211.48,564.60 L211.67,563.48 L211.86,562.35 L212.04,561.22 L212.23,560.08 L212.42,558.94 L212.61,557.79 L212.80,556.63 L212.98,555.47 L213.17,554.31 L213.36,553.14 L213.55,551.97 L213.74,550.79 L213.93,549.61 L214.11,548.42 L214.30,547.23 L214.49,546.04 L214.68,544.84 L214.87,543.64 L215.06,542.44 L215.24,541.24 L215.43,540.03 L215.62,538.82 L215.81,537.61 L216.00,536.39 L216.19,535.17 L216.37,533.96 L216.56,532.74 L216.75,531.51 L216.94,530.29 L217.13,529.07 L217.31,527.84 L217.50,526.62 L217.69,525.39 L217.88,524.16 L218.07,522.94 L218.26,521.71 L218.44,520.48 L218.63,519.25 L218.82,518.03 L219.01,516.80 L219.20,515.57 L219.39,514.35 L219.57,513.12 L219.76,511.90 L219.95,510.68 L220.14,509.46 L220.33,508.24 L220.52,507.02 L220.70,505.80 L220.89,504.59 L221.08,503.38 L221.27,502.17 L221.46,500.96 L221.64,499.75 L221.83,498.55 L222.02,497.35 L222.21,496.15 L222.40,494.95 L222.59,493.76 L222.77,492.57 L222.96,491.39 L223.15,490.20 L223.34,489.02 L223.53,487.85 L223.72,486.68 L223.90,485.51 L224.09,484.34 L224.28,483.18 L224.47,482.03 L224.66,480.87 L224.85,479.73 L225.03,478.58 L225.22,477.44 L225.41,476.31 L225.60,475.18 L225.79,474.06 L225.97,472.94 L226.16,471.82 L226.35,470.71 L226.54,469.61 L226.73,468.51 L226.92,467.42 L227.10,466.33 L227.29,465.24 L227.48,464.17 L227.67,463.10 L227.86,462.03 L228.05,460.97 L228.23,459.92 L228.42,458.87 L228.61,457.83 L228.80,456.79 L228.99,455.76 L229.18,454.74 L229.36,453.72 L229.55,452.71 L229.74,451.71 L229.93,450.71 L230.12,449.72 L230.30,448.74 L230.49,447.76 L230.68,446.79 L230.87,445.82 L231.06,444.87 L231.25,443.92 L231.43,442.98 L231.62,442.04 L231.81,441.11 L232.00,440.19 L232.19,439.28 L232.38,438.37 L232.56,437.47 L232.75,436.58 L232.94,435.69 L233.13,434.81 L233.32,433.94 L233.50,433.08 L233.69,432.23 L233.88,431.38 L234.07,430.54 L234.26,429.71 L234.45,428.88 L234.63,428.07 L234.82,427.26 L235.01,426.46 L235.20,425.66 L235.39,424.88 L235.58,424.10 L235.76,423.33 L235.95,422.57 L236.14,421.82 L236.33,421.07 L236.52,420.33 L236.71,419.60 L236.89,418.88 L237.08,418.17 L237.27,417.46 L237.46,416.76 L237.65,416.07 L237.83,415.39 L238.02,414.72 L238.21,414.05 L238.40,413.40 L238.59,412.75 L238.78,412.11 L238.96,411.47 L239.15,410.85 L239.34,410.23 L239.53,409.62 L239.72,409.02 L239.91,408.43 L240.09,407.85 L240.28,407.27 L240.47,406.70 L240.66,406.14 L240.85,405.59 L241.04,405.05 L241.22,404.51 L241.41,403.98 L241.60,403.46 L241.79,402.95 L241.98,402.45 L242.16,401.95 L242.35,401.47 L242.54,400.99 L242.73,400.52 L242.92,400.05 L243.11,399.60 L243.29,399.15 L243.48,398.71 L243.67,398.28 L243.86,397.86 L244.05,397.44 L244.24,397.03 L244.42,396.64 L244.61,396.24 L244.80,395.86 L244.99,395.48 L245.18,395.11 L245.37,394.75 L245.55,394.40 L245.74,394.06 L245.93,393.72 L246.12,393.39 L246.31,393.06 L246.49,392.75 L246.68,392.44 L246.87,392.14 L247.06,391.85 L247.25,391.56 L247.44,391.29 L247.62,391.02 L247.81,390.75 L248.00,390.50 L248.19,390.25 L248.38,390.01 L248.57,389.77 L248.75,389.55 L248.94,389.33 L249.13,389.12 L249.32,388.91 L249.51,388.71 L249.70,388.52 L249.88,388.34 L250.07,388.16 L250.26,387.99 L250.45,387.82 L250.64,387.67 L250.82,387.52 L251.01,387.37 L251.20,387.24 L251.39,387.11 L251.58,386.98 L251.77,386.86 L251.95,386.75 L252.14,386.65 L252.33,386.55 L252.52,386.46 L252.71,386.38 L252.90,386.30 L253.08,386.22 L253.27,386.16 L253.46,386.10 L253.65,386.04 L253.84,386.00 L254.03,385.96 L254.21,385.92 L254.40,385.89 L254.59,385.87 L254.78,385.85 L254.97,385.84 L255.15,385.83 L255.34,385.83 L255.53,385.84 L255.72,385.85 L255.91,385.86 L256.10,385.89 L256.28,385.91 L256.47,385.95 L256.66,385.99 L256.85,386.03 L257.04,386.08 L257.23,386.14 L257.41,386.20 L257.60,386.27 L257.79,386.34 L257.98,386.41 L258.17,386.50 L258.35,386.58 L258.54,386.67 L258.73,386.77 L258.92,386.87 L259.11,386.98 L259.30,387.09 L259.48,387.21 L259.67,387.33 L259.86,387.46 L260.05,387.59 L260.24,387.73 L260.43,387.87 L260.61,388.02 L260.80,388.17 L260.99,388.33 L261.18,388.49 L261.37,388.65 L261.56,388.82 L261.74,389.00 L261.93,389.17 L262.12,389.36 L262.31,389.54 L262.50,389.74 L262.68,389.93 L262.87,390.13 L263.06,390.34 L263.25,390.55 L263.44,390.76 L263.63,390.98 L263.81,391.20 L264.00,391.43 L264.19,391.66 L264.38,391.89 L264.57,392.13 L264.76,392.37 L264.94,392.62 L265.13,392.87 L265.32,393.12 L265.51,393.38 L265.70,393.64 L265.89,393.91 L266.07,394.18 L266.26,394.45 L266.45,394.73 L266.64,395.01 L266.83,395.29 L267.01,395.58 L267.20,395.87 L267.39,396.17 L267.58,396.46 L267.77,396.77 L267.96,397.07 L268.14,397.38 L268.33,397.69 L268.52,398.01 L268.71,398.33 L268.90,398.65 L269.09,398.97 L269.27,399.30 L269.46,399.63 L269.65,399.97 L269.84,400.31 L270.03,400.65 L270.22,400.99 L270.40,401.34 L270.59,401.69 L270.78,402.04 L270.97,402.40 L271.16,402.76 L271.34,403.12 L271.53,403.48 L271.72,403.85 L271.91,404.22 L272.10,404.59 L272.29,404.97 L272.47,405.35 L272.66,405.73 L272.85,406.11 L273.04,406.50 L273.23,406.88 L273.42,407.27 L273.60,407.67 L273.79,408.06 L273.98,408.46 L274.17,408.86 L274.36,409.27 L274.55,409.67 L274.73,410.08 L274.92,410.49 L275.11,410.90 L275.30,411.31 L275.49,411.73 L275.67,412.15 L275.86,412.57 L276.05,412.99 L276.24,413.41 L276.43,413.84 L276.62,414.27 L276.80,414.70 L276.99,415.13 L277.18,415.56 L277.37,416.00 L277.56,416.44 L277.75,416.88 L277.93,417.32 L278.12,417.76 L278.31,418.20 L278.50,418.65 L278.69,419.10 L278.88,419.55 L279.06,420.00 L279.25,420.45 L279.44,420.90 L279.63,421.36 L279.82,421.81 L280.00,422.27 L280.19,422.73 L280.38,423.19 L280.57,423.65 L280.76,424.12 L280.95,424.58 L281.13,425.05 L281.32,425.51 L281.51,425.98 L281.70,426.45 L281.89,426.92 L282.08,427.39 L282.26,427.86 L282.45,428.34 L282.64,428.81 L282.83,429.29 L283.02,429.76 L283.20,430.24 L283.39,430.72 L283.58,431.20 L283.77,431.68 L283.96,432.16 L284.15,432.64 L284.33,433.12 L284.52,433.61 L284.71,434.09 L284.90,434.57 L285.09,435.06 L285.28,435.55 L285.46,436.03 L285.65,436.52 L285.84,437.01 L286.03,437.50 L286.22,437.99 L286.41,438.48 L286.59,438.97 L286.78,439.46 L286.97,439.95 L287.16,440.44 L287.35,440.93 L287.53,441.42 L287.72,441.92 L287.91,442.41 L288.10,442.90 L288.29,443.40 L288.48,443.89 L288.66,444.39 L288.85,444.88 L289.04,445.38 L289.23,445.87 L289.42,446.37 L289.61,446.86 L289.79,447.36 L289.98,447.86 L290.17,448.35 L290.36,448.85 L290.55,449.35 L290.74,449.84 L290.92,450.34 L291.11,450.84 L291.30,451.33 L291.49,451.83 L291.68,452.33 L291.86,452.82 L292.05,453.32 L292.24,453.82 L292.43,454.31 L292.62,454.81 L292.81,455.31 L292.99,455.80 L293.18,456.30 L293.37,456.80 L293.56,457.29 L293.75,457.79 L293.94,458.29 L294.12,458.78 L294.31,459.28 L294.50,459.77 L294.69,460.27 L294.88,460.76 L295.07,461.26 L295.25,461.75 L295.44,462.24 L295.63,462.74 L295.82,463.23 L296.01,463.73 L296.19,464.22 L296.38,464.71 L296.57,465.20 L296.76,465.69 L296.95,466.19 L297.14,466.68 L297.32,467.17 L297.51,467.66 L297.70,468.15 L297.89,468.64 L298.08,469.13 L298.27,469.61 L298.45,470.10 L298.64,470.59 L298.83,471.08 L299.02,471.56 L299.21,472.05 L299.40,472.53 L299.58,473.02 L299.77,473.50 L299.96,473.99 L300.15,474.47 L300.34,474.95 L300.52,475.44 L300.71,475.92 L300.90,476.40 L301.09,476.88 L301.28,477.36 L301.47,477.84 L301.65,478.31 L301.84,478.79 L302.03,479.27 L302.22,479.75 L302.41,480.22 L302.60,480.70 L302.78,481.17 L302.97,481.65 L303.16,482.12 L303.35,482.59 L303.54,483.06 L303.73,483.53 L303.91,484.00 L304.10,484.47 L304.29,484.94 L304.48,485.41 L304.67,485.88 L304.85,486.34 L305.04,486.81 L305.23,487.27 L305.42,487.74 L305.61,488.20 L305.80,488.66 L305.98,489.12 L306.17,489.58 L306.36,490.04 L306.55,490.50 L306.74,490.96 L306.93,491.42 L307.11,491.87 L307.30,492.33 L307.49,492.79 L307.68,493.24 L307.87,493.69 L308.05,494.14 L308.24,494.60 L308.43,495.05 L308.62,495.50 L308.81,495.94 L309.00,496.39 L309.18,496.84 L309.37,497.28 L309.56,497.73 L309.75,498.17 L309.94,498.62 L310.13,499.06 L310.31,499.50 L310.50,499.94 L310.69,500.38 L310.88,500.82 L311.07,501.26 L311.26,501.69 L311.44,502.13 L311.63,502.56 L311.82,503.00 L312.01,503.43 L312.20,503.86 L312.38,504.29 L312.57,504.72 L312.76,505.15 L312.95,505.58 L313.14,506.00 L313.33,506.43 L313.51,506.85 L313.70,507.28 L313.89,507.70 L314.08,508.12 L314.27,508.54 L314.46,508.96 L314.64,509.38 L314.83,509.80 L315.02,510.22 L315.21,510.63 L315.40,511.05 L315.59,511.46 L315.77,511.87 L315.96,512.28 L316.15,512.69 L316.34,513.10 L316.53,513.51 L316.71,513.92 L316.90,514.33 L317.09,514.73 L317.28,515.14 L317.47,515.54 L317.66,515.94 L317.84,516.34 L318.03,516.74 L318.22,517.14 L318.41,517.54 L318.60,517.94 L318.79,518.33 L318.97,518.73 L319.16,519.12 L319.35,519.51 L319.54,519.91 L319.73,520.30 L319.92,520.69 L320.10,521.07 L320.29,521.46 L320.48,521.85 L320.67,522.23 L320.86,522.62 L321.04,523.00 L321.23,523.38 L321.42,523.76 L321.61,524.14 L321.80,524.52 L321.99,524.90 L322.17,525.27 L322.36,525.65 L322.55,526.02 L322.74,526.40 L322.93,526.77 L323.12,527.14 L323.30,527.51 L323.49,527.88 L323.68,528.25 L323.87,528.62 L324.06,528.98 L324.25,529.35 L324.43,529.71 L324.62,530.07 L324.81,530.43 L325.00,530.79 L325.19,531.15 L325.37,531.51 L325.56,531.87 L325.75,532.23 L325.94,532.58 L326.13,532.93 L326.32,533.29 L326.50,533.64 L326.69,533.99 L326.88,534.34 L327.07,534.69 L327.26,535.04 L327.45,535.38 L327.63,535.73 L327.82,536.07 L328.01,536.42 L328.20,536.76 L328.39,537.10 L328.58,537.44 L328.76,537.78 L328.95,538.12 L329.14,538.45 L329.33,538.79 L329.52,539.12 L329.70,539.46 L329.89,539.79 L330.08,540.12 L330.27,540.45 L330.46,540.78 L330.65,541.11 L330.83,541.44 L331.02,541.76 L331.21,542.09 L331.40,542.41 L331.59,542.73 L331.78,543.06 L331.96,543.38 L332.15,543.70 L332.34,544.02 L332.53,544.33 L332.72,544.65 L332.90,544.97 L333.09,545.28 L333.28,545.59 L333.47,545.91 L333.66,546.22 L333.85,546.53 L334.03,546.84 L334.22,547.15 L334.41,547.45 L334.60,547.76 L334.79,548.07 L334.98,548.37 L335.16,548.67 L335.35,548.98 L335.54,549.28 L335.73,549.58 L335.92,549.88 L336.11,550.17 L336.29,550.47 L336.48,550.77 L336.67,551.06 L336.86,551.36 L337.05,551.65 L337.23,551.94 L337.42,552.23 L337.61,552.52 L337.80,552.81 L337.99,553.10 L338.18,553.39 L338.36,553.67 L338.55,553.96 L338.74,554.24 L338.93,554.53 L339.12,554.81 L339.31,555.09 L339.49,555.37 L339.68,555.65 L339.87,555.93 L340.06,556.20 L340.25,556.48 L340.44,556.76 L340.62,557.03 L340.81,557.30 L341.00,557.58 L341.19,557.85 L341.38,558.12 L341.56,558.39 L341.75,558.66 L341.94,558.92 L342.13,559.19 L342.32,559.46 L342.51,559.72 L342.69,559.98 L342.88,560.25 L343.07,560.51 L343.26,560.77 L343.45,561.03 L343.64,561.29 L343.82,561.55 L344.01,561.80 L344.20,562.06 L344.39,562.32 L344.58,562.57 L344.77,562.82 L344.95,563.08 L345.14,563.33 L345.33,563.58 L345.52,563.83 L345.71,564.08 L345.89,564.32 L346.08,564.57 L346.27,564.82 L346.46,565.06 L346.65,565.31 L346.84,565.55 L347.02,565.79 L347.21,566.03 L347.40,566.27 L347.59,566.51 L347.78,566.75 L347.97,566.99 L348.15,567.23 L348.34,567.46 L348.53,567.70 L348.72,567.93 L348.91,568.17 L349.10,568.40 L349.28,568.63 L349.47,568.86 L349.66,569.09 L349.85,569.32 L350.04,569.55 L350.22,569.78 L350.41,570.01 L350.60,570.23 L350.79,570.46 L350.98,570.68 L351.17,570.90 L351.35,571.13 L351.54,571.35 L351.73,571.57 L351.92,571.79 L352.11,572.01 L352.30,572.23 L352.48,572.44 L352.67,572.66 L352.86,572.88 L353.05,573.09 L353.24,573.31 L353.43,573.52 L353.61,573.73 L353.80,573.94 L353.99,574.15 L354.18,574.36 L354.37,574.57 L354.55,574.78 L354.74,574.99 L354.93,575.20 L355.12,575.40 L355.31,575.61 L355.50,575.81 L355.68,576.02 L355.87,576.22 L356.06,576.42 L356.25,576.62 L356.44,576.82 L356.63,577.02 L356.81,577.22 L357.00,577.42 L357.19,577.62 L357.38,577.81 L357.57,578.01 L357.76,578.20 L357.94,578.40 L358.13,578.59 L358.32,578.79 L358.51,578.98 L358.70,579.17 L358.88,579.36 L359.07,579.55 L359.26,579.74 L359.45,579.93 L359.64,580.11 L359.83,580.30 L360.01,580.49 L360.20,580.67 L360.39,580.86 L360.58,581.04 L360.77,581.22 L360.96,581.41 L361.14,581.59 L361.33,581.77 L361.52,581.95 L361.71,582.13 L361.90,582.31 L362.08,582.49 L362.27,582.66 L362.46,582.84 L362.65,583.02 L362.84,583.19 L363.03,583.37 L363.21,583.54 L363.40,583.72 L363.59,583.89 L363.78,584.06 L363.97,584.23 L364.16,584.40 L364.34,584.57 L364.53,584.74 L364.72,584.91 L364.91,585.08 L365.10,585.24 L365.29,585.41 L365.47,585.58 L365.66,585.74 L365.85,585.91 L366.04,586.07 L366.23,586.23 L366.41,586.40 L366.60,586.56 L366.79,586.72 L366.98,586.88 L367.17,587.04 L367.36,587.20 L367.54,587.36 L367.73,587.52 L367.92,587.67 L368.11,587.83 L368.30,587.99 L368.49,588.14 L368.67,588.30 L368.86,588.45 L369.05,588.60 L369.24,588.76 L369.43,588.91 L369.62,589.06 L369.80,589.21 L369.99,589.36 L370.18,589.51 L370.37,589.66 L370.56,589.81 L370.74,589.96 L370.93,590.11 L371.12,590.25 L371.31,590.40 L371.50,590.55 L371.69,590.69 L371.87,590.84 L372.06,590.98 L372.25,591.12 L372.44,591.27 L372.63,591.41 L372.82,591.55 L373.00,591.69 L373.19,591.83 L373.38,591.97 L373.57,592.11 L373.76,592.25 L373.95,592.39 L374.13,592.52 L374.32,592.66 L374.51,592.80 L374.70,592.93 L374.89,593.07 L375.07,593.20 L375.26,593.34 L375.45,593.47 L375.64,593.60 L375.83,593.74 L376.02,593.87 L376.20,594.00 L376.39,594.13 L376.58,594.26 L376.77,594.39 L376.96,594.52 L377.15,594.65 L377.33,594.78 L377.52,594.91 L377.71,595.03 L377.90,595.16 L378.09,595.29 L378.28,595.41 L378.46,595.54 L378.65,595.66 L378.84,595.79 L379.03,595.91 L379.22,596.03 L379.40,596.15 L379.59,596.28 L379.78,596.40 L379.97,596.52 L380.16,596.64 L380.35,596.76 L380.53,596.88 L380.72,597.00 L380.91,597.12 L381.10,597.23 L381.29,597.35 L381.48,597.47 L381.66,597.59 L381.85,597.70 L382.04,597.82 L382.23,597.93 L382.42,598.05 L382.61,598.16 L382.79,598.27 L382.98,598.39 L383.17,598.50 L383.36,598.61 L383.55,598.72 L383.73,598.84 L383.92,598.95 L384.11,599.06 L384.30,599.17 L384.49,599.28 L384.68,599.39 L384.86,599.49 L385.05,599.60 L385.24,599.71 L385.43,599.82 L385.62,599.92 L385.81,600.03 L385.99,600.14 L386.18,600.24 L386.37,600.35 L386.56,600.45 L386.75,600.55 L386.93,600.66 L387.12,600.76 L387.31,600.86 L387.50,600.97 L387.69,601.07 L387.88,601.17 L388.06,601.27 L388.25,601.37 L388.44,601.47 L388.63,601.57 L388.82,601.67 L389.01,601.77 L389.19,601.87 L389.38,601.97 L389.57,602.06 L389.76,602.16 L389.95,602.26 L390.14,602.36 L390.32,602.45 L390.51,602.55 L390.70,602.64 L390.89,602.74 L391.08,602.83 L391.26,602.93 L391.45,603.02 L391.64,603.11 L391.83,603.21 L392.02,603.30 L392.21,603.39 L392.39,603.48 L392.58,603.57 L392.77,603.66 L392.96,603.75 L393.15,603.84 L393.34,603.93 L393.52,604.02 L393.71,604.11 L393.90,604.20 L394.09,604.29 L394.28,604.38 L394.47,604.47 L394.65,604.55 L394.84,604.64 L395.03,604.73 L395.22,604.81 L395.41,604.90 L395.59,604.98 L395.78,605.07 L395.97,605.15 L396.16,605.24 L396.35,605.32 L396.54,605.40 L396.72,605.49 L396.91,605.57 L397.10,605.65 L397.29,605.73 L397.48,605.82 L397.67,605.90 L397.85,605.98 L398.04,606.06 L398.23,606.14 L398.42,606.22 L398.61,606.30 L398.80,606.38 L398.98,606.46 L399.17,606.54 L399.36,606.61 L399.55,606.69 L399.74,606.77 L399.92,606.85 L400.11,606.92 L400.30,607.00 L400.49,607.08 L400.68,607.15 L400.87,607.23 L401.05,607.31 L401.24,607.38 L401.43,607.46 L401.62,607.53 L401.81,607.60 L402.00,607.68 L402.18,607.75 L402.37,607.82 L402.56,607.90 L402.75,607.97 L402.94,608.04 L403.13,608.11 L403.31,608.19 L403.50,608.26 L403.69,608.33 L403.88,608.40 L404.07,608.47 L404.25,608.54 L404.44,608.61 L404.63,608.68 L404.82,608.75 L405.01,608.82 L405.20,608.88 L405.38,608.95 L405.57,609.02 L405.76,609.09 L405.95,609.16 L406.14,609.22 L406.33,609.29 L406.51,609.36 L406.70,609.42 L406.89,609.49 L407.08,609.55 L407.27,609.62 L407.46,609.69 L407.64,609.75 L407.83,609.82 L408.02,609.88 L408.21,609.94 L408.40,610.01 L408.58,610.07 L408.77,610.13 L408.96,610.20 L409.15,610.26 L409.34,610.32 L409.53,610.38 L409.71,610.45 L409.90,610.51 L410.09,610.57 L410.28,610.63 L410.47,610.69 L410.66,610.75 L410.84,610.81 L411.03,610.87 L411.22,610.93 L411.41,610.99 L411.60,611.05 L411.78,611.11 L411.97,611.17 L412.16,611.23 L412.35,611.29 L412.54,611.34 L412.73,611.40 L412.91,611.46 L413.10,611.52 L413.29,611.57 L413.48,611.63 L413.67,611.69 L413.86,611.74 L414.04,611.80 L414.23,611.85 L414.42,611.91 L414.61,611.97 L414.80,612.02 L414.99,612.08 L415.17,612.13 L415.36,612.18 L415.55,612.24 L415.74,612.29 L415.93,612.35 L416.11,612.40 L416.30,612.45 L416.49,612.51 L416.68,612.56 L416.87,612.61 L417.06,612.66 L417.24,612.72 L417.43,612.77 L417.62,612.82 L417.81,612.87 L418.00,612.92 L418.19,612.97 L418.37,613.02 L418.56,613.07 L418.75,613.12 L418.94,613.17 L419.13,613.22 L419.32,613.27 L419.50,613.32 L419.69,613.37 L419.88,613.42 L420.07,613.47 L420.26,613.52 L420.44,613.57 L420.63,613.62 L420.82,613.66 L421.01,613.71 L421.20,613.76 L421.39,613.81 L421.57,613.85 L421.76,613.90 L421.95,613.95 L422.14,613.99 L422.33,614.04 L422.52,614.09 L422.70,614.13 L422.89,614.18 L423.08,614.22 L423.27,614.27 L423.46,614.32 L423.65,614.36 L423.83,614.40 L424.02,614.45 L424.21,614.49 L424.40,614.54 L424.59,614.58 L424.77,614.63 L424.96,614.67 L425.15,614.71 L425.34,614.76 L425.53,614.80 L425.72,614.84 L425.90,614.89 L426.09,614.93 L426.28,614.97 L426.47,615.01 L426.66,615.05 L426.85,615.10 L427.03,615.14 L427.22,615.18 L427.41,615.22 L427.60,615.26 L427.79,615.30 L427.98,615.34 L428.16,615.38 L428.35,615.42 L428.54,615.46 L428.73,615.50 L428.92,615.54 L429.10,615.58 L429.29,615.62 L429.48,615.66 L429.67,615.70 L429.86,615.74 L430.05,615.78 L430.23,615.82 L430.42,615.86 L430.61,615.90 L430.80,615.93 L430.99,615.97 L431.18,616.01" stroke="#ff0000" stroke-dasharray="9.2 3.7 3.1 3.7"/>
<path d="M92.69,575.73 L92.90,578.33 L93.11,580.90 L93.32,583.43 L93.54,585.93 L93.76,588.38 L93.98,590.79 L94.20,593.14 L94.42,595.43 L94.64,597.66 L94.87,599.83 L95.09,601.93 L95.32,603.95 L95.54,605.89 L95.77,607.76 L96.00,609.54 L96.22,611.23 L96.45,612.83 L96.67,614.34 L96.89,615.76 L97.11,617.08 L97.33,618.30 L97.54,619.42 L97.76,620.43 L97.97,621.35 L98.17,622.15 L98.37,622.85 L98.57,623.45 L98.77,623.93 L98.96,624.31 L99.15,624.58 L99.33,624.75 L99.51,624.80 L99.68,624.75 L99.86,624.59 L100.03,624.32 L100.19,623.95 L100.35,623.48 L100.51,622.91 L100.67,622.23 L100.83,621.45 L100.98,620.58 L101.13,619.61 L101.28,618.55 L101.43,617.40 L101.58,616.16 L101.73,614.83 L101.88,613.42 L102.04,611.93 L102.19,610.36 L102.34,608.72 L102.49,607.00 L102.65,605.22 L102.81,603.37 L102.96,601.47 L103.12,599.50 L103.29,597.48 L103.45,595.40 L103.61,593.28 L103.78,591.12 L103.95,588.91 L104.12,586.67 L104.29,584.40 L104.47,582.09 L104.64,579.76 L104.82,577.41 L104.99,575.05 L105.17,572.66 L105.35,570.27 L105.53,567.87 L105.72,565.47 L105.90,563.07 L106.08,560.68 L106.27,558.29 L106.45,555.91 L106.64,553.55 L106.82,551.21 L107.01,548.89 L107.19,546.59 L107.38,544.33 L107.57,542.09 L107.75,539.89 L107.94,537.73 L108.13,535.61 L108.32,533.53 L108.50,531.50 L108.69,529.52 L108.88,527.59 L109.07,525.72 L109.26,523.90 L109.44,522.14 L109.63,520.44 L109.82,518.80 L110.01,517.23 L110.20,515.72 L110.38,514.28 L110.57,512.92 L110.76,511.62 L110.95,510.40 L111.14,509.25 L111.33,508.18 L111.51,507.18 L111.70,506.26 L111.89,505.42 L112.08,504.65 L112.27,503.97 L112.46,503.37 L112.64,502.84 L112.83,502.40 L113.02,502.04 L113.21,501.75 L113.40,501.55 L113.59,501.43 L113.77,501.39 L113.96,501.42 L114.15,501.54 L114.34,501.73 L114.53,502.01 L114.72,502.36 L114.90,502.78 L115.09,503.28 L115.28,503.86 L115.47,504.50 L115.66,505.22 L115.85,506.01 L116.04,506.87 L116.23,507.80 L116.42,508.79 L116.61,509.85 L116.79,510.97 L116.98,512.15 L117.17,513.39 L117.36,514.68 L117.55,516.04 L117.74,517.44 L117.94,518.90 L118.13,520.41 L118.32,521.96 L118.51,523.56 L118.70,525.21 L118.89,526.89 L119.09,528.62 L119.28,530.38 L119.47,532.17 L119.67,534.00 L119.86,535.86 L120.06,537.74 L120.25,539.66 L120.45,541.59 L120.64,543.54 L120.84,545.52 L121.04,547.51 L121.24,549.51 L121.44,551.52 L121.64,553.55 L121.84,555.58 L122.05,557.61 L122.25,559.65 L122.46,561.68 L122.66,563.72 L122.87,565.75 L123.08,567.77 L123.29,569.79 L123.50,571.79 L123.71,573.79 L123.92,575.76 L124.13,577.72 L124.35,579.66 L124.56,581.58 L124.78,583.48 L125.00,585.35 L125.22,587.20 L125.44,589.02 L125.66,590.80 L125.88,592.56 L126.10,594.28 L126.32,595.97 L126.54,597.62 L126.77,599.23 L126.99,600.81 L127.21,602.34 L127.44,603.83 L127.66,605.28 L127.89,606.68 L128.11,608.04 L128.33,609.35 L128.55,610.61 L128.77,611.82 L129.00,612.98 L129.22,614.10 L129.43,615.16 L129.65,616.16 L129.87,617.12 L130.08,618.02 L130.29,618.87 L130.50,619.66 L130.71,620.39 L130.92,621.07 L131.12,621.70 L131.33,622.26 L131.53,622.77 L131.72,623.23 L131.92,623.62 L132.11,623.96 L132.30,624.24 L132.49,624.47 L132.68,624.63 L132.86,624.74 L133.04,624.80 L133.22,624.79 L133.40,624.73 L133.57,624.61 L133.74,624.44 L133.91,624.21 L134.08,623.92 L134.25,623.58 L134.41,623.19 L134.57,622.74 L134.73,622.24 L134.89,621.69 L135.05,621.09 L135.21,620.43 L135.36,619.73 L135.52,618.97 L135.67,618.17 L135.83,617.32 L135.98,616.42 L136.13,615.48 L136.29,614.49 L136.44,613.46 L136.59,612.38 L136.75,611.26 L136.90,610.10 L137.05,608.91 L137.21,607.67 L137.36,606.40 L137.52,605.08 L137.67,603.74 L137.83,602.36 L137.99,600.95 L138.15,599.50 L138.31,598.03 L138.47,596.52 L138.63,594.99 L138.79,593.43 L138.96,591.85 L139.12,590.24 L139.29,588.61 L139.46,586.95 L139.62,585.28 L139.79,583.59 L139.96,581.88 L140.14,580.15 L140.31,578.41 L140.48,576.65 L140.66,574.89 L140.83,573.11 L141.01,571.32 L141.18,569.52 L141.36,567.72 L141.54,565.91 L141.72,564.09 L141.90,562.27 L142.08,560.45 L142.26,558.63 L142.45,556.81 L142.63,554.99 L142.81,553.17 L142.99,551.35 L143.18,549.54 L143.36,547.74 L143.55,545.95 L143.73,544.16 L143.92,542.38 L144.10,540.61 L144.29,538.86 L144.48,537.12 L144.66,535.39 L144.85,533.68 L145.03,531.98 L145.22,530.30 L145.41,528.64 L145.60,526.99 L145.78,525.37 L145.97,523.77 L146.16,522.19 L146.35,520.63 L146.53,519.09 L146.72,517.58 L146.91,516.10 L147.10,514.64 L147.28,513.20 L147.47,511.80 L147.66,510.42 L147.85,509.07 L148.04,507.75 L148.23,506.46 L148.41,505.20 L148.60,503.97 L148.79,502.77 L148.98,501.61 L149.17,500.48 L149.35,499.38 L149.54,498.31 L149.73,497.28 L149.92,496.28 L150.11,495.32 L150.30,494.40 L150.48,493.50 L150.67,492.65 L150.86,491.83 L151.05,491.05 L151.24,490.30 L151.42,489.60 L151.61,488.92 L151.80,488.29 L151.99,487.69 L152.18,487.14 L152.37,486.61 L152.55,486.13 L152.74,485.69 L152.93,485.28 L153.12,484.91 L153.31,484.58 L153.50,484.28 L153.68,484.03 L153.87,483.81 L154.06,483.63 L154.25,483.49 L154.44,483.38 L154.63,483.31 L154.81,483.28 L155.00,483.29 L155.19,483.33 L155.38,483.41 L155.57,483.52 L155.75,483.68 L155.94,483.86 L156.13,484.09 L156.32,484.34 L156.51,484.64 L156.70,484.96 L156.88,485.33 L157.07,485.72 L157.26,486.15 L157.45,486.61 L157.64,487.11 L157.83,487.63 L158.01,488.19 L158.20,488.78 L158.39,489.40 L158.58,490.05 L158.77,490.73 L158.95,491.44 L159.14,492.18 L159.33,492.95 L159.52,493.74 L159.71,494.57 L159.90,495.42 L160.08,496.29 L160.27,497.19 L160.46,498.12 L160.65,499.07 L160.84,500.04 L161.03,501.04 L161.21,502.06 L161.40,503.11 L161.59,504.17 L161.78,505.26 L161.97,506.37 L162.16,507.49 L162.34,508.64 L162.53,509.80 L162.72,510.98 L162.91,512.18 L163.10,513.40 L163.28,514.63 L163.47,515.88 L163.66,517.14 L163.85,518.42 L164.04,519.71 L164.23,521.01 L164.41,522.33 L164.60,523.65 L164.79,524.99 L164.98,526.34 L165.17,527.69 L165.36,529.06 L165.54,530.44 L165.73,531.82 L165.92,533.21 L166.11,534.61 L166.30,536.01 L166.49,537.41 L166.67,538.83 L166.86,540.24 L167.05,541.66 L167.24,543.08 L167.43,544.51 L167.62,545.94 L167.80,547.36 L167.99,548.79 L168.18,550.22 L168.37,551.64 L168.56,553.07 L168.75,554.49 L168.94,555.91 L169.13,557.33 L169.31,558.75 L169.50,560.16 L169.69,561.56 L169.88,562.96 L170.07,564.36 L170.26,565.74 L170.45,567.13 L170.64,568.50 L170.83,569.87 L171.02,571.22 L171.21,572.57 L171.40,573.91 L171.59,575.24 L171.78,576.56 L171.97,577.87 L172.16,579.17 L172.35,580.46 L172.54,581.73 L172.73,583.00 L172.92,584.25 L173.11,585.48 L173.30,586.70 L173.49,587.91 L173.69,589.11 L173.88,590.29 L174.07,591.45 L174.26,592.60 L174.46,593.73 L174.65,594.85 L174.84,595.95 L175.04,597.03 L175.23,598.10 L175.43,599.14 L175.62,600.17 L175.82,601.19 L176.01,602.18 L176.21,603.16 L176.40,604.11 L176.60,605.05 L176.80,605.97 L176.99,606.86 L177.19,607.74 L177.39,608.60 L177.59,609.43 L177.78,610.25 L177.98,611.05 L178.18,611.82 L178.38,612.57 L178.58,613.31 L178.78,614.02 L178.98,614.71 L179.18,615.37 L179.38,616.02 L179.58,616.64 L179.78,617.24 L179.98,617.82 L180.18,618.38 L180.38,618.91 L180.58,619.42 L180.77,619.91 L180.97,620.37 L181.17,620.81 L181.37,621.23 L181.57,621.63 L181.77,622.00 L181.97,622.35 L182.16,622.67 L182.36,622.98 L182.56,623.26 L182.75,623.51 L182.95,623.75 L183.14,623.96 L183.34,624.14 L183.53,624.31 L183.72,624.45 L183.92,624.56 L184.11,624.66 L184.30,624.73 L184.49,624.77 L184.68,624.80 L184.87,624.80 L185.06,624.78 L185.25,624.73 L185.43,624.66 L185.62,624.57 L185.80,624.46 L185.99,624.32 L186.17,624.16 L186.36,623.98 L186.54,623.78 L186.72,623.55 L186.90,623.31 L187.09,623.04 L187.27,622.74 L187.45,622.43 L187.63,622.10 L187.81,621.74 L187.98,621.36 L188.16,620.96 L188.34,620.54 L188.52,620.10 L188.70,619.64 L188.87,619.16 L189.05,618.66 L189.23,618.13 L189.41,617.59 L189.58,617.03 L189.76,616.44 L189.94,615.84 L190.11,615.22 L190.29,614.58 L190.47,613.92 L190.64,613.24 L190.82,612.54 L191.00,611.83 L191.18,611.09 L191.35,610.34 L191.53,609.57 L191.71,608.78 L191.89,607.98 L192.07,607.15 L192.25,606.31 L192.43,605.46 L192.61,604.59 L192.79,603.70 L192.97,602.79 L193.15,601.87 L193.33,600.93 L193.51,599.98 L193.69,599.01 L193.87,598.03 L194.05,597.03 L194.24,596.02 L194.42,595.00 L194.60,593.96 L194.79,592.90 L194.97,591.84 L195.15,590.76 L195.34,589.66 L195.52,588.55 L195.71,587.43 L195.89,586.30 L196.08,585.16 L196.26,584.00 L196.45,582.84 L196.63,581.66 L196.82,580.47 L197.01,579.26 L197.19,578.05 L197.38,576.83 L197.56,575.60 L197.75,574.35 L197.94,573.10 L198.12,571.84 L198.31,570.57 L198.50,569.29 L198.69,568.00 L198.87,566.70 L199.06,565.39 L199.25,564.08 L199.44,562.76 L199.62,561.43 L199.81,560.09 L200.00,558.75 L200.19,557.39 L200.37,556.04 L200.56,554.67 L200.75,553.30 L200.94,551.92 L201.13,550.54 L201.31,549.15 L201.50,547.76 L201.69,546.36 L201.88,544.96 L202.07,543.55 L202.26,542.14 L202.44,540.72 L202.63,539.30 L202.82,537.88 L203.01,536.45 L203.20,535.02 L203.38,533.59 L203.57,532.15 L203.76,530.71 L203.95,529.27 L204.14,527.82 L204.33,526.38 L204.51,524.93 L204.70,523.48 L204.89,522.03 L205.08,520.58 L205.27,519.12 L205.45,517.67 L205.64,516.21 L205.83,514.76 L206.02,513.30 L206.21,511.85 L206.40,510.39 L206.58,508.94 L206.77,507.48 L206.96,506.03 L207.15,504.58 L207.34,503.13 L207.53,501.68 L207.71,500.23 L207.90,498.78 L208.09,497.33 L208.28,495.89 L208.47,494.45 L208.65,493.01 L208.84,491.57 L209.03,490.14 L209.22,488.71 L209.41,487.28 L209.60,485.85 L209.78,484.43 L209.97,483.01 L210.16,481.60 L210.35,480.19 L210.54,478.78 L210.73,477.38 L210.91,475.98 L211.10,474.58 L211.29,473.19 L211.48,471.81 L211.67,470.42 L211.86,469.05 L212.04,467.68 L212.23,466.31 L212.42,464.95 L212.61,463.59 L212.80,462.24 L212.98,460.90 L213.17,459.56 L213.36,458.23 L213.55,456.90 L213.74,455.58 L213.93,454.26 L214.11,452.96 L214.30,451.65 L214.49,450.36 L214.68,449.07 L214.87,447.79 L215.06,446.51 L215.24,445.24 L215.43,443.98 L215.62,442.73 L215.81,441.48 L216.00,440.24 L216.19,439.01 L216.37,437.78 L216.56,436.57 L216.75,435.36 L216.94,434.15 L217.13,432.96 L217.31,431.77 L217.50,430.59 L217.69,429.42 L217.88,428.26 L218.07,427.11 L218.26,425.96 L218.44,424.82 L218.63,423.70 L218.82,422.57 L219.01,421.46 L219.20,420.36 L219.39,419.26 L219.57,418.18 L219.76,417.10 L219.95,416.03 L220.14,414.97 L220.33,413.92 L220.52,412.88 L220.70,411.85 L220.89,410.82 L221.08,409.81 L221.27,408.80 L221.46,407.80 L221.64,406.82 L221.83,405.84 L222.02,404.87 L222.21,403.91 L222.40,402.96 L222.59,402.02 L222.77,401.09 L222.96,400.16 L223.15,399.25 L223.34,398.35 L223.53,397.45 L223.72,396.57 L223.90,395.70 L224.09,394.83 L224.28,393.98 L224.47,393.13 L224.66,392.29 L224.85,391.47 L225.03,390.65 L225.22,389.84 L225.41,389.05 L225.60,388.26 L225.79,387.48 L225.97,386.71 L226.16,385.95 L226.35,385.20 L226.54,384.46 L226.73,383.73 L226.92,383.01 L227.10,382.30 L227.29,381.60 L227.48,380.91 L227.67,380.23 L227.86,379.56 L228.05,378.90 L228.23,378.25 L228.42,377.61 L228.61,376.97 L228.80,376.35 L228.99,375.74 L229.18,375.13 L229.36,374.54 L229.55,373.96 L229.74,373.38 L229.93,372.82 L230.12,372.26 L230.30,371.71 L230.49,371.18 L230.68,370.65 L230.87,370.13 L231.06,369.63 L231.25,369.13 L231.43,368.64 L231.62,368.16 L231.81,367.69 L232.00,367.23 L232.19,366.78 L232.38,366.34 L232.56,365.90 L232.75,365.48 L232.94,365.07 L233.13,364.66 L233.32,364.27 L233.50,363.88 L233.69,363.50 L233.88,363.13 L234.07,362.78 L234.26,362.43 L234.45,362.08 L234.63,361.75 L234.82,361.43 L235.01,361.11 L235.20,360.81 L235.39,360.51 L235.58,360.23 L235.76,359.95 L235.95,359.68 L236.14,359.41 L236.33,359.16 L236.52,358.92 L236.71,358.68 L236.89,358.45 L237.08,358.24 L237.27,358.02 L237.46,357.82 L237.65,357.63 L237.83,357.44 L238.02,357.27 L238.21,357.10 L238.40,356.94 L238.59,356.79 L238.78,356.64 L238.96,356.51 L239.15,356.38 L239.34,356.26 L239.53,356.14 L239.72,356.04 L239.91,355.94 L240.09,355.86 L240.28,355.77 L240.47,355.70 L240.66,355.64 L240.85,355.58 L241.04,355.53 L241.22,355.48 L241.41,355.45 L241.60,355.42 L241.79,355.40 L241.98,355.39 L242.16,355.38 L242.35,355.38 L242.54,355.39 L242.73,355.41 L242.92,355.43 L243.11,355.46 L243.29,355.50 L243.48,355.54 L243.67,355.59 L243.86,355.65 L244.05,355.71 L244.24,355.78 L244.42,355.86 L244.61,355.94 L244.80,356.04 L244.99,356.13 L245.18,356.24 L245.37,356.35 L245.55,356.46 L245.74,356.59 L245.93,356.72 L246.12,356.85 L246.31,356.99 L246.49,357.14 L246.68,357.30 L246.87,357.46 L247.06,357.62 L247.25,357.80 L247.44,357.97 L247.62,358.16 L247.81,358.35 L248.00,358.54 L248.19,358.74 L248.38,358.95 L248.57,359.16 L248.75,359.38 L248.94,359.60 L249.13,359.83 L249.32,360.07 L249.51,360.31 L249.70,360.55 L249.88,360.80 L250.07,361.06 L250.26,361.32 L250.45,361.58 L250.64,361.85 L250.82,362.13 L251.01,362.41 L251.20,362.69 L251.39,362.98 L251.58,363.28 L251.77,363.58 L251.95,363.88 L252.14,364.19 L252.33,364.51 L252.52,364.83 L252.71,365.15 L252.90,365.48 L253.08,365.81 L253.27,366.14 L253.46,366.49 L253.65,366.83 L253.84,367.18 L254.03,367.53 L254.21,367.89 L254.40,368.25 L254.59,368.62 L254.78,368.99 L254.97,369.36 L255.15,369.74 L255.34,370.12 L255.53,370.50 L255.72,370.89 L255.91,371.29 L256.10,371.68 L256.28,372.08 L256.47,372.49 L256.66,372.89 L256.85,373.30 L257.04,373.72 L257.23,374.13 L257.41,374.56 L257.60,374.98 L257.79,375.41 L257.98,375.84 L258.17,376.27 L258.35,376.71 L258.54,377.15 L258.73,377.59 L258.92,378.04 L259.11,378.49 L259.30,378.94 L259.48,379.39 L259.67,379.85 L259.86,380.31 L260.05,380.78 L260.24,381.24 L260.43,381.71 L260.61,382.18 L260.80,382.66 L260.99,383.14 L261.18,383.61 L261.37,384.10 L261.56,384.58 L261.74,385.07 L261.93,385.56 L262.12,386.05 L262.31,386.54 L262.50,387.04 L262.68,387.54 L262.87,388.04 L263.06,388.54 L263.25,389.05 L263.44,389.55 L263.63,390.06 L263.81,390.57 L264.00,391.09 L264.19,391.60 L264.38,392.12 L264.57,392.64 L264.76,393.16 L264.94,393.68 L265.13,394.20 L265.32,394.73 L265.51,395.26 L265.70,395.79 L265.89,396.32 L266.07,396.85 L266.26,397.38 L266.45,397.92 L266.64,398.46 L266.83,399.00 L267.01,399.54 L267.20,400.08 L267.39,400.62 L267.58,401.17 L267.77,401.71 L267.96,402.26 L268.14,402.81 L268.33,403.36 L268.52,403.91 L268.71,404.46 L268.90,405.01 L269.09,405.56 L269.27,406.12 L269.46,406.67 L269.65,407.23 L269.84,407.79 L270.03,408.35 L270.22,408.91 L270.40,409.47 L270.59,410.03 L270.78,410.59 L270.97,411.16 L271.16,411.72 L271.34,412.29 L271.53,412.85 L271.72,413.42 L271.91,413.98 L272.10,414.55 L272.29,415.12 L272.47,415.69 L272.66,416.26 L272.85,416.83 L273.04,417.40 L273.23,417.97 L273.42,418.54 L273.60,419.11 L273.79,419.69 L273.98,420.26 L274.17,420.83 L274.36,421.41 L274.55,421.98 L274.73,422.56 L274.92,423.13 L275.11,423.70 L275.30,424.28 L275.49,424.85 L275.67,425.43 L275.86,426.01 L276.05,426.58 L276.24,427.16 L276.43,427.73 L276.62,428.31 L276.80,428.89 L276.99,429.46 L277.18,430.04 L277.37,430.62 L277.56,431.19 L277.75,431.77 L277.93,432.35 L278.12,432.92 L278.31,433.50 L278.50,434.07 L278.69,434.65 L278.88,435.23 L279.06,435.80 L279.25,436.38 L279.44,436.95 L279.63,437.53 L279.82,438.10 L280.00,438.68 L280.19,439.25 L280.38,439.83 L280.57,440.40 L280.76,440.97 L280.95,441.55 L281.13,442.12 L281.32,442.69 L281.51,443.27 L281.70,443.84 L281.89,444.41 L282.08,444.98 L282.26,445.55 L282.45,446.12 L282.64,446.69 L282.83,447.26 L283.02,447.83 L283.20,448.40 L283.39,448.96 L283.58,449.53 L283.77,450.10 L283.96,450.66 L284.15,451.23 L284.33,451.79 L284.52,452.36 L284.71,452.92 L284.90,453.49 L285.09,454.05 L285.28,454.61 L285.46,455.17 L285.65,455.73 L285.84,456.29 L286.03,456.85 L286.22,457.41 L286.41,457.97 L286.59,458.52 L286.78,459.08 L286.97,459.63 L287.16,460.19 L287.35,460.74 L287.53,461.29 L287.72,461.85 L287.91,462.40 L288.10,462.95 L288.29,463.50 L288.48,464.05 L288.66,464.60 L288.85,465.14 L289.04,465.69 L289.23,466.23 L289.42,466.78 L289.61,467.32 L289.79,467.87 L289.98,468.41 L290.17,468.95 L290.36,469.49 L290.55,470.03 L290.74,470.57 L290.92,471.10 L291.11,471.64 L291.30,472.17 L291.49,472.71 L291.68,473.24 L291.86,473.77 L292.05,474.30 L292.24,474.83 L292.43,475.36 L292.62,475.89 L292.81,476.42 L292.99,476.95 L293.18,477.47 L293.37,477.99 L293.56,478.52 L293.75,479.04 L293.94,479.56 L294.12,480.08 L294.31,480.60 L294.50,481.12 L294.69,481.63 L294.88,482.15 L295.07,482.66 L295.25,483.17 L295.44,483.69 L295.63,484.20 L295.82,484.71 L296.01,485.22 L296.19,485.72 L296.38,486.23 L296.57,486.73 L296.76,487.24 L296.95,487.74 L297.14,488.24 L297.32,488.74 L297.51,489.24 L297.70,489.74 L297.89,490.24 L298.08,490.73 L298.27,491.23 L298.45,491.72 L298.64,492.21 L298.83,492.71 L299.02,493.19 L299.21,493.68 L299.40,494.17 L299.58,494.66 L299.77,495.14 L299.96,495.63 L300.15,496.11 L300.34,496.59 L300.52,497.07 L300.71,497.55 L300.90,498.03 L301.09,498.50 L301.28,498.98 L301.47,499.45 L301.65,499.92 L301.84,500.40 L302.03,500.87 L302.22,501.33 L302.41,501.80 L302.60,502.27 L302.78,502.73 L302.97,503.20 L303.16,503.66 L303.35,504.12 L303.54,504.58 L303.73,505.04 L303.91,505.50 L304.10,505.95 L304.29,506.41 L304.48,506.86 L304.67,507.31 L304.85,507.77 L305.04,508.22 L305.23,508.66 L305.42,509.11 L305.61,509.56 L305.80,510.00 L305.98,510.45 L306.17,510.89 L306.36,511.33 L306.55,511.77 L306.74,512.21 L306.93,512.64 L307.11,513.08 L307.30,513.51 L307.49,513.95 L307.68,514.38 L307.87,514.81 L308.05,515.24 L308.24,515.67 L308.43,516.09 L308.62,516.52 L308.81,516.94 L309.00,517.36 L309.18,517.79 L309.37,518.21 L309.56,518.63 L309.75,519.04 L309.94,519.46 L310.13,519.87 L310.31,520.29 L310.50,520.70 L310.69,521.11 L310.88,521.52 L311.07,521.93 L311.26,522.34 L311.44,522.74 L311.63,523.15 L311.82,523.55 L312.01,523.95 L312.20,524.36 L312.38,524.75 L312.57,525.15 L312.76,525.55 L312.95,525.95 L313.14,526.34 L313.33,526.73 L313.51,527.13 L313.70,527.52 L313.89,527.91 L314.08,528.29 L314.27,528.68 L314.46,529.07 L314.64,529.45 L314.83,529.83 L315.02,530.22 L315.21,530.60 L315.40,530.98 L315.59,531.35 L315.77,531.73 L315.96,532.11 L316.15,532.48 L316.34,532.85 L316.53,533.22 L316.71,533.59 L316.90,533.96 L317.09,534.33 L317.28,534.70 L317.47,535.06 L317.66,535.43 L317.84,535.79 L318.03,536.15 L318.22,536.51 L318.41,536.87 L318.60,537.23 L318.79,537.59 L318.97,537.94 L319.16,538.30 L319.35,538.65 L319.54,539.00 L319.73,539.35 L319.92,539.70 L320.10,540.05 L320.29,540.40 L320.48,540.74 L320.67,541.09 L320.86,541.43 L321.04,541.77 L321.23,542.11 L321.42,542.45 L321.61,542.79 L321.80,543.13 L321.99,543.46 L322.17,543.80 L322.36,544.13 L322.55,544.46 L322.74,544.79 L322.93,545.12 L323.12,545.45 L323.30,545.78 L323.49,546.11 L323.68,546.43 L323.87,546.76 L324.06,547.08 L324.25,547.40 L324.43,547.72 L324.62,548.04 L324.81,548.36 L325.00,548.68 L325.19,548.99 L325.37,549.31 L325.56,549.62 L325.75,549.93 L325.94,550.25 L326.13,550.56 L326.32,550.86 L326.50,551.17 L326.69,551.48 L326.88,551.78 L327.07,552.09 L327.26,552.39 L327.45,552.69 L327.63,553.00 L327.82,553.30 L328.01,553.59 L328.20,553.89 L328.39,554.19 L328.58,554.48 L328.76,554.78 L328.95,555.07 L329.14,555.36 L329.33,555.66 L329.52,555.95 L329.70,556.23 L329.89,556.52 L330.08,556.81 L330.27,557.09 L330.46,557.38 L330.65,557.66 L330.83,557.94 L331.02,558.23 L331.21,558.51 L331.40,558.78 L331.59,559.06 L331.78,559.34 L331.96,559.62 L332.15,559.89 L332.34,560.16 L332.53,560.44 L332.72,560.71 L332.90,560.98 L333.09,561.25 L333.28,561.52 L333.47,561.79 L333.66,562.05 L333.85,562.32 L334.03,562.58 L334.22,562.85 L334.41,563.11 L334.60,563.37 L334.79,563.63 L334.98,563.89 L335.16,564.15 L335.35,564.40 L335.54,564.66 L335.73,564.92 L335.92,565.17 L336.11,565.42 L336.29,565.68 L336.48,565.93 L336.67,566.18 L336.86,566.43 L337.05,566.68 L337.23,566.92 L337.42,567.17 L337.61,567.42 L337.80,567.66 L337.99,567.90 L338.18,568.15 L338.36,568.39 L338.55,568.63 L338.74,568.87 L338.93,569.11 L339.12,569.34 L339.31,569.58 L339.49,569.82 L339.68,570.05 L339.87,570.29 L340.06,570.52 L340.25,570.75 L340.44,570.98 L340.62,571.21 L340.81,571.44 L341.00,571.67 L341.19,571.90 L341.38,572.12 L341.56,572.35 L341.75,572.57 L341.94,572.80 L342.13,573.02 L342.32,573.24 L342.51,573.46 L342.69,573.69 L342.88,573.90 L343.07,574.12 L343.26,574.34 L343.45,574.56 L343.64,574.77 L343.82,574.99 L344.01,575.20 L344.20,575.42 L344.39,575.63 L344.58,575.84 L344.77,576.05 L344.95,576.26 L345.14,576.47 L345.33,576.68 L345.52,576.88 L345.71,577.09 L345.89,577.30 L346.08,577.50 L346.27,577.70 L346.46,577.91 L346.65,578.11 L346.84,578.31 L347.02,578.51 L347.21,578.71 L347.40,578.91 L347.59,579.11 L347.78,579.31 L347.97,579.50 L348.15,579.70 L348.34,579.89 L348.53,580.09 L348.72,580.28 L348.91,580.47 L349.10,580.66 L349.28,580.85 L349.47,581.04 L349.66,581.23 L349.85,581.42 L350.04,581.61 L350.22,581.80 L350.41,581.98 L350.60,582.17 L350.79,582.35 L350.98,582.54 L351.17,582.72 L351.35,582.90 L351.54,583.08 L351.73,583.26 L351.92,583.44 L352.11,583.62 L352.30,583.80 L352.48,583.98 L352.67,584.16 L352.86,584.33 L353.05,584.51 L353.24,584.68 L353.43,584.86 L353.61,585.03 L353.80,585.20 L353.99,585.38 L354.18,585.55 L354.37,585.72 L354.55,585.89 L354.74,586.06 L354.93,586.23 L355.12,586.39 L355.31,586.56 L355.50,586.73 L355.68,586.89 L355.87,587.06 L356.06,587.22 L356.25,587.38 L356.44,587.55 L356.63,587.71 L356.81,587.87 L357.00,588.03 L357.19,588.19 L357.38,588.35 L357.57,588.51 L357.76,588.67 L357.94,588.82 L358.13,588.98 L358.32,589.14 L358.51,589.29 L358.70,589.45 L358.88,589.60 L359.07,589.75 L359.26,589.91 L359.45,590.06 L359.64,590.21 L359.83,590.36 L360.01,590.51 L360.20,590.66 L360.39,590.81 L360.58,590.96 L360.77,591.11 L360.96,591.25 L361.14,591.40 L361.33,591.55 L361.52,591.69 L361.71,591.84 L361.90,591.98 L362.08,592.12 L362.27,592.26 L362.46,592.41 L362.65,592.55 L362.84,592.69 L363.03,592.83 L363.21,592.97 L363.40,593.11 L363.59,593.25 L363.78,593.38 L363.97,593.52 L364.16,593.66 L364.34,593.79 L364.53,593.93 L364.72,594.06 L364.91,594.20 L365.10,594.33 L365.29,594.47 L365.47,594.60 L365.66,594.73 L365.85,594.86 L366.04,594.99 L366.23,595.12 L366.41,595.25 L366.60,595.38 L366.79,595.51 L366.98,595.64 L367.17,595.77 L367.36,595.89 L367.54,596.02 L367.73,596.15 L367.92,596.27 L368.11,596.40 L368.30,596.52 L368.49,596.64 L368.67,596.77 L368.86,596.89 L369.05,597.01 L369.24,597.13 L369.43,597.26 L369.62,597.38 L369.80,597.50 L369.99,597.62 L370.18,597.74 L370.37,597.85 L370.56,597.97 L370.74,598.09 L370.93,598.21 L371.12,598.32 L371.31,598.44 L371.50,598.55 L371.69,598.67 L371.87,598.78 L372.06,598.90 L372.25,599.01 L372.44,599.12 L372.63,599.24 L372.82,599.35 L373.00,599.46 L373.19,599.57 L373.38,599.68 L373.57,599.79 L373.76,599.90 L373.95,600.01 L374.13,600.12 L374.32,600.23 L374.51,600.34 L374.70,600.44 L374.89,600.55 L375.07,600.66 L375.26,600.76 L375.45,600.87 L375.64,600.97 L375.83,601.08 L376.02,601.18 L376.20,601.28 L376.39,601.39 L376.58,601.49 L376.77,601.59 L376.96,601.69 L377.15,601.80 L377.33,601.90 L377.52,602.00 L377.71,602.10 L377.90,602.20 L378.09,602.30 L378.28,602.39 L378.46,602.49 L378.65,602.59 L378.84,602.69 L379.03,602.78 L379.22,602.88 L379.40,602.98 L379.59,603.07 L379.78,603.17 L379.97,603.26 L380.16,603.36 L380.35,603.45 L380.53,603.55 L380.72,603.64 L380.91,603.73 L381.10,603.82 L381.29,603.92 L381.48,604.01 L381.66,604.10 L381.85,604.19 L382.04,604.28 L382.23,604.37 L382.42,604.46 L382.61,604.55 L382.79,604.64 L382.98,604.73 L383.17,604.81 L383.36,604.90 L383.55,604.99 L383.73,605.08 L383.92,605.16 L384.11,605.25 L384.30,605.34 L384.49,605.42 L384.68,605.51 L384.86,605.59 L385.05,605.67 L385.24,605.76 L385.43,605.84 L385.62,605.93 L385.81,606.01 L385.99,606.09 L386.18,606.17 L386.37,606.25 L386.56,606.34 L386.75,606.42 L386.93,606.50 L387.12,606.58 L387.31,606.66 L387.50,606.74 L387.69,606.82 L387.88,606.90 L388.06,606.97 L388.25,607.05 L388.44,607.13 L388.63,607.21 L388.82,607.29 L389.01,607.36 L389.19,607.44 L389.38,607.51 L389.57,607.59 L389.76,607.67 L389.95,607.74 L390.14,607.82 L390.32,607.89 L390.51,607.96 L390.70,608.04 L390.89,608.11 L391.08,608.19 L391.26,608.26 L391.45,608.33 L391.64,608.40 L391.83,608.48 L392.02,608.55 L392.21,608.62 L392.39,608.69 L392.58,608.76 L392.77,608.83 L392.96,608.90 L393.15,608.97 L393.34,609.04 L393.52,609.11 L393.71,609.18 L393.90,609.25 L394.09,609.31 L394.28,609.38 L394.47,609.45 L394.65,609.52 L394.84,609.58 L395.03,609.65 L395.22,609.72 L395.41,609.78 L395.59,609.85 L395.78,609.91 L395.97,609.98 L396.16,610.04 L396.35,610.11 L396.54,610.17 L396.72,610.24 L396.91,610.30 L397.10,610.37 L397.29,610.43 L397.48,610.49 L397.67,610.55 L397.85,610.62 L398.04,610.68 L398.23,610.74 L398.42,610.80 L398.61,610.86 L398.80,610.93 L398.98,610.99 L399.17,611.05 L399.36,611.11 L399.55,611.17 L399.74,611.23 L399.92,611.29 L400.11,611.35 L400.30,611.40 L400.49,611.46 L400.68,611.52 L400.87,611.58 L401.05,611.64 L401.24,611.70 L401.43,611.75 L401.62,611.81 L401.81,611.87 L402.00,611.92 L402.18,611.98 L402.37,612.04 L402.56,612.09 L402.75,612.15 L402.94,612.20 L403.13,612.26 L403.31,612.31 L403.50,612.37 L403.69,612.42 L403.88,612.48 L404.07,612.53 L404.25,612.58 L404.44,612.64 L404.63,612.69 L404.82,612.74 L405.01,612.80 L405.20,612.85 L405.38,612.90 L405.57,612.95 L405.76,613.01 L405.95,613.06 L406.14,613.11 L406.33,613.16 L406.51,613.21 L406.70,613.26 L406.89,613.31 L407.08,613.36 L407.27,613.41 L407.46,613.46 L407.64,613.51 L407.83,613.56 L408.02,613.61 L408.21,613.66 L408.40,613.71 L408.58,613.76 L408.77,613.80 L408.96,613.85 L409.15,613.90 L409.34,613.95 L409.53,614.00 L409.71,614.04 L409.90,614.09 L410.09,614.14 L410.28,614.18 L410.47,614.23 L410.66,614.28 L410.84,614.32 L411.03,614.37 L411.22,614.41 L411.41,614.46 L411.60,614.50 L411.78,614.55 L411.97,614.59 L412.16,614.64 L412.35,614.68 L412.54,614.73 L412.73,614.77 L412.91,614.81 L413.10,614.86 L413.29,614.90 L413.48,614.95 L413.67,614.99 L413.86,615.03 L414.04,615.07 L414.23,615.12 L414.42,615.16 L414.61,615.20 L414.80,615.24 L414.99,615.28 L415.17,615.33 L415.36,615.37 L415.55,615.41 L415.74,615.45 L415.93,615.49 L416.11,615.53 L416.30,615.57 L416.49,615.61 L416.68,615.65 L416.87,615.69 L417.06,615.73 L417.24,615.77 L417.43,615.81 L417.62,615.85 L417.81,615.89 L418.00,615.93 L418.19,615.97 L418.37,616.00 L418.56,616.04 L418.75,616.08 L418.94,616.12 L419.13,616.16 L419.32,616.19 L419.50,616.23 L419.69,616.27 L419.88,616.31 L420.07,616.34 L420.26,616.38 L420.44,616.42 L420.63,616.45 L420.82,616.49 L421.01,616.53 L421.20,616.56 L421.39,616.60 L421.57,616.63 L421.76,616.67 L421.95,616.71 L422.14,616.74 L422.33,616.78 L422.52,616.81 L422.70,616.85 L422.89,616.88 L423.08,616.91 L423.27,616.95 L423.46,616.98 L423.65,617.02 L423.83,617.05 L424.02,617.08 L424.21,617.12 L424.40,617.15 L424.59,617.19 L424.77,617.22 L424.96,617.25 L425.15,617.28 L425.34,617.32 L425.53,617.35 L425.72,617.38 L425.90,617.41 L426.09,617.45 L426.28,617.48 L426.47,617.51 L426.66,617.54 L426.85,617.57 L427.03,617.60 L427.22,617.64 L427.41,617.67 L427.60,617.70 L427.79,617.73 L427.98,617.76 L428.16,617.79 L428.35,617.82 L428.54,617.85 L428.73,617.88 L428.92,617.91 L429.10,617.94 L429.29,617.97 L429.48,618.00 L429.67,618.03 L429.86,618.06 L430.05,618.09 L430.23,618.12 L430.42,618.15 L430.61,618.18 L430.80,618.21 L430.99,618.23 L431.18,618.26" stroke="#0000ff" stroke-dasharray="9.2 3.8"/>
</g>
<g stroke="#000" stroke-width="0.38" fill="none">
<path d="M92.5,325.3 V625.1 M451.5,325.3 V625.1 M92.3,325.5 H451.7 M92.3,624.93 H451.7"/>
<line x1="92.50" y1="575.02" x2="94.50" y2="575.02"/><line x1="451.50" y1="575.02" x2="449.50" y2="575.02"/><line x1="92.50" y1="525.12" x2="96.50" y2="525.12"/><line x1="451.50" y1="525.12" x2="447.50" y2="525.12"/><line x1="92.50" y1="475.21" x2="94.50" y2="475.21"/><line x1="451.50" y1="475.21" x2="449.50" y2="475.21"/><line x1="92.50" y1="425.31" x2="96.50" y2="425.31"/><line x1="451.50" y1="425.31" x2="447.50" y2="425.31"/><line x1="92.50" y1="375.40" x2="94.50" y2="375.40"/><line x1="451.50" y1="375.40" x2="449.50" y2="375.40"/><line x1="156.11" y1="624.93" x2="156.11" y2="622.93"/><line x1="156.11" y1="325.50" x2="156.11" y2="327.50"/><line x1="193.32" y1="624.93" x2="193.32" y2="622.93"/><line x1="193.32" y1="325.50" x2="193.32" y2="327.50"/><line x1="219.72" y1="624.93" x2="219.72" y2="622.93"/><line x1="219.72" y1="325.50" x2="219.72" y2="327.50"/><line x1="240.19" y1="624.93" x2="240.19" y2="622.93"/><line x1="240.19" y1="325.50" x2="240.19" y2="327.50"/><line x1="256.92" y1="624.93" x2="256.92" y2="622.93"/><line x1="256.92" y1="325.50" x2="256.92" y2="327.50"/><line x1="271.07" y1="624.93" x2="271.07" y2="622.93"/><line x1="271.07" y1="325.50" x2="271.07" y2="327.50"/><line x1="283.32" y1="624.93" x2="283.32" y2="622.93"/><line x1="283.32" y1="325.50" x2="283.32" y2="327.50"/><line x1="294.13" y1="624.93" x2="294.13" y2="622.93"/><line x1="294.13" y1="325.50" x2="294.13" y2="327.50"/><line x1="303.80" y1="624.93" x2="303.80" y2="620.93"/><line x1="303.80" y1="325.50" x2="303.80" y2="329.50"/><line x1="367.41" y1="624.93" x2="367.41" y2="622.93"/><line x1="367.41" y1="325.50" x2="367.41" y2="327.50"/><line x1="404.62" y1="624.93" x2="404.62" y2="622.93"/><line x1="404.62" y1="325.50" x2="404.62" y2="327.50"/><line x1="431.02" y1="624.93" x2="431.02" y2="622.93"/><line x1="431.02" y1="325.50" x2="431.02" y2="327.50"/><line x1="92.50" y1="325.50" x2="96.50" y2="325.50"/><line x1="92.50" y1="624.93" x2="96.50" y2="624.93"/><line x1="451.50" y1="325.50" x2="447.50" y2="325.50"/><line x1="451.50" y1="624.93" x2="447.50" y2="624.93"/><line x1="92.50" y1="325.50" x2="92.50" y2="329.50"/><line x1="92.50" y1="624.93" x2="92.50" y2="620.93"/><line x1="451.50" y1="325.50" x2="451.50" y2="327.50"/><line x1="451.50" y1="624.93" x2="451.50" y2="622.93"/>
</g>
<g font-size="13.6">
<text transform="translate(84.5,330.1) scale(0.94,1)" text-anchor="end">0.06</text>
<text transform="translate(84.5,430.1) scale(0.94,1)" text-anchor="end">0.04</text>
<text transform="translate(84.5,530.1) scale(0.94,1)" text-anchor="end">0.02</text>
<text transform="translate(84.5,629.1) scale(0.94,1)" text-anchor="end">0</text>
<text transform="translate(92.7,639.8) scale(0.94,1)" text-anchor="middle">1</text>
<text transform="translate(303.8,639.8) scale(0.94,1)" text-anchor="middle">10</text>
<text transform="translate(272,656.5) scale(0.94,1)" text-anchor="middle">E [GeV]</text>
<text transform="translate(332,371.8) scale(0.94,1)">exact</text>
<text transform="translate(333,421.6) scale(0.94,1)">L=2900km</text>
</g>
<g fill="none" stroke-width="0.8">
<line x1="294" y1="351.5" x2="324.9" y2="351.5" stroke="#000"/>
<line x1="294" y1="367.5" x2="324.9" y2="367.5" stroke="#f00" stroke-dasharray="9.2 3.7 3.1 3.7"/>
<line x1="294" y1="383" x2="324.9" y2="383" stroke="#00f" stroke-dasharray="9.2 3.8"/>
</g>
<g class="ser" font-size="13.3">
<text x="331.6" y="355.6" font-size="13.8">Δ</text><text x="343.4" y="355.6">m</text><text x="353" y="348.2" font-size="7.4">2</text><text x="356.2" y="359.3" font-size="7.5">atm</text><text x="366.6" y="355.6">+</text><text x="374.4" y="355.6" font-size="13.8">Δ</text><text x="386.5" y="355.6">m</text><text x="395.6" y="348.2" font-size="7.4">2</text><text x="399.3" y="359.3" font-size="7.5">sol corr.</text>
</g>
<g class="ser" font-size="13.3">
<text x="331.6" y="387.3" font-size="13.8">Δ</text><text x="341" y="387.3">m</text><text x="349.7" y="380.4" font-size="7.4">2</text><text x="353.5" y="390.5" font-size="7.5">sol</text><text x="360.4" y="387.3">=</text><text x="369.5" y="387.3">0</text>
</g>
<g transform="translate(47.4,502) rotate(-90)">
<text x="0" y="0" font-size="13" font-weight="bold">P(</text>
<text class="ser" x="12.4" y="0" font-size="14.3">ν</text>
<text class="ser" x="19.1" y="4.3" font-size="7.5">e</text>
<path d="M22.9,-2.9 H34.2 M30.4,-6.1 L34.4,-2.9 L30.4,0.3" fill="none" stroke="#000" stroke-width="0.8"/>
<text class="ser" x="35" y="0" font-size="14.3">ν</text>
<text class="ser" x="39.3" y="4.3" font-size="8">μ</text>
<text x="44.3" y="0" font-size="13.5" font-weight="bold">)</text>
</g>
</svg>
</body></html>
